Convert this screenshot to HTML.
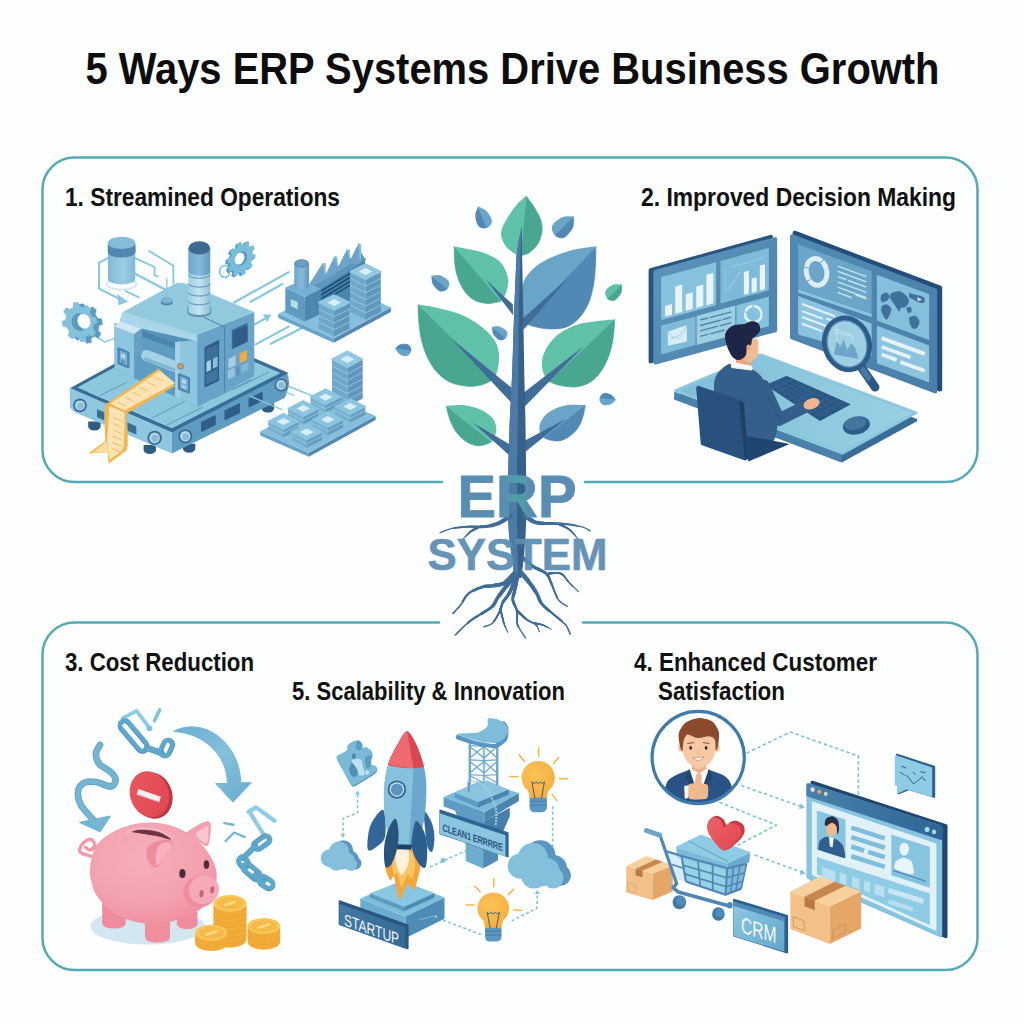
<!DOCTYPE html>
<html>
<head>
<meta charset="utf-8">
<title>5 Ways ERP Systems Drive Business Growth</title>
<style>
html,body{margin:0;padding:0;background:#fdfefe;}
body{width:1024px;height:1024px;overflow:hidden;font-family:"Liberation Sans",sans-serif;}
svg{display:block;}
text{font-family:"Liberation Sans",sans-serif;}
</style>
</head>
<body>
<svg width="1024" height="1024" viewBox="0 0 1024 1024">
<defs>
<clipPath id="trunkclip"><rect x="507.5" y="470" width="19" height="52"/></clipPath>
<linearGradient id="g1tank" x1="0" x2="1" y1="0" y2="0"><stop offset="0" stop-color="#82b9d7"/><stop offset="0.55" stop-color="#9ccde3"/><stop offset="1" stop-color="#82b9d7"/></linearGradient>
<linearGradient id="g1chim" x1="0" x2="1" y1="0" y2="0"><stop offset="0" stop-color="#9fcfe3"/><stop offset="0.5" stop-color="#c4e3ee"/><stop offset="1" stop-color="#8dc0d9"/></linearGradient>
<linearGradient id="g1chim2" x1="0" x2="1" y1="0" y2="0"><stop offset="0" stop-color="#6fa6c9"/><stop offset="0.5" stop-color="#86badb"/><stop offset="1" stop-color="#6499c0"/></linearGradient>
<linearGradient id="g2bezL" x1="0" x2="1" y1="0" y2="1"><stop offset="0" stop-color="#5f95bb"/><stop offset="1" stop-color="#4a80aa"/></linearGradient>
<linearGradient id="g2bezR" x1="0" x2="1" y1="0" y2="1"><stop offset="0" stop-color="#5289b2"/><stop offset="1" stop-color="#4a7fa9"/></linearGradient>
<linearGradient id="g2desk" x1="0" x2="1" y1="0" y2="0"><stop offset="0" stop-color="#7fbdd8"/><stop offset="1" stop-color="#9bd0e4"/></linearGradient>
<radialGradient id="g3pig" cx="0.42" cy="0.35" r="0.75"><stop offset="0" stop-color="#f7aebb"/><stop offset="0.6" stop-color="#f4a1af"/><stop offset="1" stop-color="#ee8c9d"/></radialGradient>
<linearGradient id="g3red" x1="0" x2="1" y1="0" y2="1"><stop offset="0" stop-color="#ea5860"/><stop offset="1" stop-color="#e0464f"/></linearGradient>
<linearGradient id="g3arr" x1="0" x2="1" y1="0" y2="1"><stop offset="0" stop-color="#6aaed0"/><stop offset="0.5" stop-color="#84c1db"/><stop offset="1" stop-color="#67abcd"/></linearGradient>
<radialGradient id="g5bulb" cx="0.4" cy="0.35" r="0.7"><stop offset="0" stop-color="#f9c25a"/><stop offset="1" stop-color="#f5ae3c"/></radialGradient>
<linearGradient id="g4heart" x1="0" x2="1" y1="0" y2="1"><stop offset="0" stop-color="#ee6268"/><stop offset="1" stop-color="#e2454f"/></linearGradient>
<linearGradient id="g4crm" x1="0" x2="1" y1="0" y2="1"><stop offset="0" stop-color="#8cc8e1"/><stop offset="1" stop-color="#64a6cb"/></linearGradient>
<linearGradient id="g4bar" x1="0" x2="1" y1="0" y2="0"><stop offset="0" stop-color="#4a80ab"/><stop offset="1" stop-color="#2f6594"/></linearGradient>
<linearGradient id="g5sign" x1="0" x2="1" y1="0" y2="0"><stop offset="0" stop-color="#437aa3"/><stop offset="1" stop-color="#356a95"/></linearGradient>
</defs>
<rect width="1024" height="1024" fill="#fdfefe"/>

<!-- TITLE -->
<text id="title" x="85.5" y="83.5" font-size="44" font-weight="700" fill="#0d0d0d" textLength="854" lengthAdjust="spacingAndGlyphs">5 Ways ERP Systems Drive Business Growth</text>

<!-- PANELS -->
<g id="panels" fill="none" stroke="#55aab5" stroke-width="2.5" stroke-linecap="round">
  <path d="M442 482 H74.5 A32 32 0 0 1 42.5 450 V189.5 A32 32 0 0 1 74.5 157.5 H945.5 A32 32 0 0 1 977.5 189.5 V450 A32 32 0 0 1 945.5 482 H585"/>
  <path d="M439 622.5 H74.5 A32 32 0 0 0 42.5 654.5 V938 A32 32 0 0 0 74.5 970 H945.5 A32 32 0 0 0 977.5 938 V654.5 A32 32 0 0 0 945.5 622.5 H583"/>
</g>

<!-- LABELS -->
<g id="labels" font-size="25" font-weight="700" fill="#111">
  <text x="65" y="206" textLength="275" lengthAdjust="spacingAndGlyphs">1. Streamined Operations</text>
  <text x="641" y="206" textLength="315" lengthAdjust="spacingAndGlyphs">2. Improved Decision Making</text>
  <text x="65" y="671" textLength="189" lengthAdjust="spacingAndGlyphs">3. Cost Reduction</text>
  <text x="292" y="700" textLength="273" lengthAdjust="spacingAndGlyphs">5. Scalability &amp; Innovation</text>
  <text x="634" y="671" textLength="243" lengthAdjust="spacingAndGlyphs">4. Enhanced Customer</text>
  <text x="658" y="700" textLength="127" lengthAdjust="spacingAndGlyphs">Satisfaction</text>
</g>

<!-- TREE -->
<g id="tree">
<path d="M526.2 195.9 C527.5 197.7 531.6 202.8 534 206.9 C536.5 210.9 539.6 216 540.9 220.3 C542.2 224.6 542.4 228.5 541.9 232.5 C541.3 236.4 539.8 240.6 537.7 244 C535.6 247.3 532 250.8 529.2 252.8 C526.3 254.7 522 255.2 520.6 255.7 Z" fill="#49a791" stroke="#49a791" stroke-width="0.7" stroke-linejoin="round"/><path d="M526.2 195.9 C524.7 197.3 520.2 200.5 517 204.4 C513.7 208.3 509.3 214.4 506.7 219.1 C504.1 223.7 501.4 228.2 501.1 232.5 C500.8 236.8 502.7 241.3 504.7 244.7 C506.8 248.1 510.6 250.9 513.3 252.8 C515.9 254.6 519.4 255.2 520.6 255.7 Z" fill="#60c1a9"/>
<path d="M454.2 246.4 C454.3 249.2 454.1 257.8 454.7 263 C455.3 268.2 456.2 273 457.9 277.7 C459.5 282.3 461.7 287.3 464.5 291.1 C467.2 294.8 470.4 298 474.2 300.1 C478.1 302.2 483.2 303.3 487.7 303.5 C492.1 303.7 498.8 301.7 501.1 301.3 Z" fill="#49a791" stroke="#49a791" stroke-width="0.7" stroke-linejoin="round"/><path d="M454.2 246.4 C456.9 246.9 465 248.2 470.6 249.6 C476.1 250.9 482.6 252.2 487.7 254.5 C492.7 256.7 497.7 259.1 501.1 263 C504.5 266.9 507 273 507.9 277.7 C508.9 282.3 507.8 287.1 506.7 291.1 C505.6 295 502 299.6 501.1 301.3 Z" fill="#60c1a9"/>
<path d="M595.8 246.4 C595.8 249.2 595.9 257 595.6 263 C595.2 269 595 276 593.9 282.5 C592.8 289 591.4 296.2 589 302.1 C586.5 308 583.1 313.7 579.2 317.9 C575.3 322.1 570.9 325.4 565.8 327.2 C560.7 329 554 329 548.7 328.9 C543.4 328.8 538.2 327.5 534 326.5 C529.9 325.5 525.5 323.4 523.8 322.8 Z" fill="#5189b4" stroke="#5189b4" stroke-width="0.7" stroke-linejoin="round"/><path d="M595.8 246.4 C592.8 246.8 584.2 247.5 578 248.8 C571.8 250.2 565 251.9 558.5 254.5 C551.9 257 544.4 260.4 538.9 264.2 C533.4 268.1 528.3 273 525.5 277.7 C522.6 282.3 522.4 287 521.8 292.3 C521.3 297.6 521.8 304.3 522.1 309.4 C522.4 314.5 523.5 320.6 523.8 322.8 Z" fill="#6aa5c8"/>
<path d="M418.1 304.5 C418.2 307.4 418.2 315.5 418.8 321.6 C419.4 327.7 420.2 335 421.7 341.1 C423.2 347.2 425.2 352.9 427.8 358.2 C430.5 363.5 433.7 368.8 437.6 372.9 C441.5 376.9 445.9 380.4 451 382.6 C456.1 384.9 462.8 386 468.1 386.3 C473.4 386.6 478.5 385.8 482.8 384.6 C487 383.4 491.9 379.9 493.8 379 Z" fill="#49a791" stroke="#49a791" stroke-width="0.7" stroke-linejoin="round"/><path d="M418.1 304.5 C421.5 305.1 431.3 306.3 438.8 308.2 C446.4 310 455.9 312.2 463.2 315.5 C470.6 318.8 477.5 323.4 482.8 327.7 C488.1 332 492.3 336.5 495 341.1 C497.7 345.8 498.7 350.9 499.1 355.8 C499.5 360.7 498.3 366.6 497.4 370.4 C496.5 374.3 494.4 377.6 493.8 379 Z" fill="#60c1a9"/>
<path d="M614.6 319.6 C614.4 322.4 614.2 330.6 613.4 336.2 C612.6 341.9 611.6 347.8 609.7 353.3 C607.9 358.8 605.5 364.5 602.4 369.2 C599.4 373.9 595.7 378.5 591.4 381.4 C587.1 384.3 581.9 386.1 576.8 386.8 C571.7 387.5 565.6 386.5 560.9 385.6 C556.2 384.7 550.7 382.1 548.7 381.4 Z" fill="#49a791" stroke="#49a791" stroke-width="0.7" stroke-linejoin="round"/><path d="M614.6 319.6 C611.8 319.9 604 320.2 597.5 321.1 C591 322 582.5 322.7 575.5 325.3 C568.6 327.8 561.1 332 556 336.2 C550.9 340.5 547.4 346.4 545 350.9 C542.7 355.4 542.1 359.2 541.9 363.1 C541.7 367 542.7 371 543.8 374.1 C544.9 377.1 547.9 380.2 548.7 381.4 Z" fill="#60c1a9"/>
<path d="M446.2 405.9 C446.8 408.1 448.2 415 449.8 419.3 C451.4 423.6 453.3 427.8 455.9 431.5 C458.6 435.2 462.2 438.9 465.7 441.3 C469.1 443.6 473.2 445.2 476.7 445.7 C480.1 446.2 484 444.9 486.4 444.2 C488.9 443.5 490.5 442.2 491.3 441.8 Z" fill="#49a791" stroke="#49a791" stroke-width="0.7" stroke-linejoin="round"/><path d="M446.2 405.9 C449 405.7 457.5 404.5 463.2 405.1 C468.9 405.7 475.4 407.4 480.3 409.5 C485.2 411.7 489.9 414.8 492.5 418.1 C495.2 421.3 496.2 425.6 496.4 429.1 C496.6 432.5 494.6 436.7 493.8 438.8 C492.9 440.9 491.7 441.3 491.3 441.8 Z" fill="#60c1a9"/>
<path d="M585.3 405.1 C584.9 407.1 584.1 413.1 582.9 416.9 C581.7 420.6 580.2 424.6 578 427.8 C575.8 431.1 572.5 434.2 569.4 436.4 C566.4 438.5 562.9 440.2 559.7 440.8 C556.4 441.4 552.6 440.6 549.9 440 C547.3 439.5 544.8 438 543.8 437.6 Z" fill="#5189b4" stroke="#5189b4" stroke-width="0.7" stroke-linejoin="round"/><path d="M585.3 405.1 C582.5 405.1 573.5 404.4 568.2 405.1 C562.9 405.9 557.6 407.6 553.6 409.5 C549.5 411.5 546.2 414 543.8 416.9 C541.4 419.7 539.9 423.6 539.4 426.6 C538.9 429.7 540.1 433.3 540.9 435.2 C541.6 437 543.3 437.2 543.8 437.6 Z" fill="#6aa5c8"/>
<path d="M477.9 206.9 C479.2 207.5 483.8 208.8 486 210.9 C488.3 213.1 490.8 217.4 491.4 219.8 C492.1 222.2 490.9 223.8 490.2 225.1 C489.4 226.5 487.4 227.3 486.9 227.7 Z" fill="#6aa5c8" stroke="#6aa5c8" stroke-width="0.7" stroke-linejoin="round"/><path d="M477.9 206.9 C477.5 208.3 475.2 212.4 475.3 215.5 C475.3 218.7 476.7 223.5 478 225.6 C479.2 227.7 481.3 228 482.8 228.3 C484.2 228.7 486.2 227.8 486.9 227.7 Z" fill="#5189b4"/>
<path d="M573.6 216.6 C573.5 218.4 574.1 223.8 572.8 227.2 C571.4 230.5 567.7 235 565.4 236.7 C563.1 238.4 560.7 237.8 558.9 237.5 C557.1 237.2 555.3 235.3 554.6 234.9 Z" fill="#5189b4" stroke="#5189b4" stroke-width="0.7" stroke-linejoin="round"/><path d="M573.6 216.6 C571.8 216.7 566.4 215.8 563 217 C559.6 218.3 555 221.8 553.2 224 C551.4 226.3 551.9 228.7 552.2 230.5 C552.4 232.3 554.2 234.2 554.6 234.9 Z" fill="#6aa5c8"/>
<path d="M431.5 276.2 C432.9 276.1 436.9 275 439.6 275.6 C442.3 276.3 446 278.6 447.6 280.2 C449.1 281.8 448.9 283.7 448.9 285.1 C448.9 286.6 447.6 288.1 447.4 288.7 Z" fill="#6aa5c8" stroke="#6aa5c8" stroke-width="0.7" stroke-linejoin="round"/><path d="M431.5 276.2 C431.7 277.5 431.6 281.8 432.8 284.2 C434.1 286.7 437.2 289.8 439.1 290.9 C441 292.1 442.9 291.4 444.2 291 C445.6 290.7 446.8 289.1 447.4 288.7 Z" fill="#5189b4"/>
<path d="M621.4 284.5 C621.4 285.8 622 290 621.1 292.5 C620.1 295 617.5 298.3 615.7 299.6 C614 300.9 612 300.5 610.6 300.3 C609.2 300.1 607.8 298.6 607.3 298.3 Z" fill="#49a791" stroke="#49a791" stroke-width="0.7" stroke-linejoin="round"/><path d="M621.4 284.5 C620.1 284.5 616 283.8 613.5 284.6 C610.9 285.5 607.5 288.1 606.2 289.8 C604.8 291.5 605.2 293.5 605.4 294.9 C605.6 296.3 607 297.7 607.3 298.3 Z" fill="#60c1a9"/>
<path d="M492.1 327.2 C493.2 327.1 496.7 326.2 499 326.7 C501.3 327.3 504.5 329.2 505.9 330.6 C507.2 331.9 507 333.6 507 334.8 C507 336.1 505.9 337.4 505.7 337.9 Z" fill="#6aa5c8" stroke="#6aa5c8" stroke-width="0.7" stroke-linejoin="round"/><path d="M492.1 327.2 C492.2 328.4 492.1 332 493.2 334.1 C494.3 336.2 497 338.8 498.6 339.8 C500.3 340.8 501.8 340.2 503 339.9 C504.2 339.6 505.2 338.2 505.7 337.9 Z" fill="#5189b4"/>
<path d="M395.4 348.5 C396.2 347.8 398.5 345.2 400.6 344.6 C402.6 344 405.9 344.1 407.6 344.6 C409.3 345.2 410 346.8 410.6 347.9 C411.2 348.9 410.9 350.6 410.9 351.2 Z" fill="#5189b4" stroke="#5189b4" stroke-width="0.7" stroke-linejoin="round"/><path d="M395.4 348.5 C396 349.4 397.3 352.6 399 353.8 C400.7 355.1 403.8 356.1 405.6 356.2 C407.3 356.2 408.6 355 409.5 354.2 C410.4 353.4 410.7 351.7 410.9 351.2 Z" fill="#6aa5c8"/>
<path d="M615.6 399.7 C614.8 400.5 612.7 403.2 610.7 404.1 C608.8 404.9 605.4 405.1 603.7 404.7 C602 404.4 601 402.9 600.4 401.8 C599.7 400.8 599.8 399.1 599.7 398.6 Z" fill="#6aa5c8" stroke="#6aa5c8" stroke-width="0.7" stroke-linejoin="round"/><path d="M615.6 399.7 C614.9 398.9 613.3 395.8 611.4 394.7 C609.6 393.6 606.3 392.9 604.5 393 C602.8 393.2 601.6 394.5 600.8 395.4 C600 396.3 599.9 398 599.7 398.6 Z" fill="#5189b4"/>
<path d="M512.8 304.5 L485.7 279.6 L513.3 315.5 Z" fill="#3f6d97"/>
<path d="M521.8 319.6 L569.4 276.4 L523.8 329.4 Z" fill="#3f6d97"/>
<path d="M511.3 387.5 L451 338.2 L512.1 403.4 Z" fill="#3f6d97"/>
<path d="M523.3 392.9 L584.1 346 L524.8 406.6 Z" fill="#3f6d97"/>
<path d="M509.6 444.2 L472.5 422.5 L509.6 455.4 Z" fill="#3f6d97"/>
<path d="M524.5 440.8 L566.3 418.8 L525.7 451.5 Z" fill="#3f6d97"/>
<path d="M521.8 226.4 L518.7 241 L516.5 255.7 L514.5 302.1 L512.1 375.3 L509.6 424.1 L508.4 463.2 L507.7 512.1 L509.1 536.5 L512.3 560.9 L514.5 578 L521.3 578 L523.5 560.9 L525.5 536.5 L526.5 512.1 L526 463.2 L525.5 424.1 L524.3 375.3 L523.1 302.1 L522.1 255.7 L521.8 226.4 Z" fill="#35618a"/>
<path d="M521.8 226.4 L518.7 241 L516.5 255.7 L514.5 302.1 L512.1 375.3 L509.6 424.1 L508.4 463.2 L507.7 512.1 L509.1 536.5 L512.3 560.9 L514.5 578 L517.9 578 L517.7 560.9 L517.2 536.5 L517 512.1 L517 463.2 L517.7 424.1 L518.2 375.3 L518.9 302.1 L520.6 255.7 L521.8 226.4 Z" fill="#4b7ba6"/>
<g fill="none" stroke="#3f6d97" stroke-linecap="round" stroke-linejoin="round">
<path d="M510.8 515.7 C508.6 517.1 502.1 522 497.4 523.8 C492.7 525.6 487.7 526.2 482.8 526.7 C477.9 527.2 473.4 526.4 468.1 526.7 C462.8 527 455.7 527.7 451 528.7 C446.4 529.7 441.9 532.1 440 532.8" stroke-width="1.3"/><path d="M510.8 515.7 C508.6 517.1 502.1 522 497.4 523.8 C492.7 525.6 487.7 526.2 482.8 526.7 C477.9 527.2 473.4 526.4 468.1 526.7 C462.8 527 455.7 527.7 451 528.7 C446.4 529.7 441.9 532.1 440 532.8" pathLength="1" stroke-dasharray="0.8 2" stroke-width="1.9"/><path d="M510.8 515.7 C508.6 517.1 502.1 522 497.4 523.8 C492.7 525.6 487.7 526.2 482.8 526.7 C477.9 527.2 473.4 526.4 468.1 526.7 C462.8 527 455.7 527.7 451 528.7 C446.4 529.7 441.9 532.1 440 532.8" pathLength="1" stroke-dasharray="0.6 2" stroke-width="2.4"/><path d="M510.8 515.7 C508.6 517.1 502.1 522 497.4 523.8 C492.7 525.6 487.7 526.2 482.8 526.7 C477.9 527.2 473.4 526.4 468.1 526.7 C462.8 527 455.7 527.7 451 528.7 C446.4 529.7 441.9 532.1 440 532.8" pathLength="1" stroke-dasharray="0.45 2" stroke-width="3"/><path d="M510.8 515.7 C508.6 517.1 502.1 522 497.4 523.8 C492.7 525.6 487.7 526.2 482.8 526.7 C477.9 527.2 473.4 526.4 468.1 526.7 C462.8 527 455.7 527.7 451 528.7 C446.4 529.7 441.9 532.1 440 532.8" pathLength="1" stroke-dasharray="0.3 2" stroke-width="3.7"/><path d="M510.8 515.7 C508.6 517.1 502.1 522 497.4 523.8 C492.7 525.6 487.7 526.2 482.8 526.7 C477.9 527.2 473.4 526.4 468.1 526.7 C462.8 527 455.7 527.7 451 528.7 C446.4 529.7 441.9 532.1 440 532.8" pathLength="1" stroke-dasharray="0.15 2" stroke-width="4.2"/>
<path d="M479.1 527 C477.7 527.7 473.1 529.7 470.6 531.6 C468 533.5 464.9 537.3 463.7 538.4" stroke-width="1.2"/><path d="M479.1 527 C477.7 527.7 473.1 529.7 470.6 531.6 C468 533.5 464.9 537.3 463.7 538.4" pathLength="1" stroke-dasharray="0.8 2" stroke-width="1.5"/><path d="M479.1 527 C477.7 527.7 473.1 529.7 470.6 531.6 C468 533.5 464.9 537.3 463.7 538.4" pathLength="1" stroke-dasharray="0.6 2" stroke-width="1.8"/><path d="M479.1 527 C477.7 527.7 473.1 529.7 470.6 531.6 C468 533.5 464.9 537.3 463.7 538.4" pathLength="1" stroke-dasharray="0.45 2" stroke-width="1.9"/><path d="M479.1 527 C477.7 527.7 473.1 529.7 470.6 531.6 C468 533.5 464.9 537.3 463.7 538.4" pathLength="1" stroke-dasharray="0.3 2" stroke-width="1.9"/><path d="M479.1 527 C477.7 527.7 473.1 529.7 470.6 531.6 C468 533.5 464.9 537.3 463.7 538.4" pathLength="1" stroke-dasharray="0.15 2" stroke-width="2"/>
<path d="M524.3 515.7 C526.3 516.9 531.6 521.3 536.5 522.6 C541.4 523.9 548.3 523.3 553.6 523.5 C558.9 523.8 563.3 523.7 568.2 524.3 C573.1 524.9 579.2 526.1 582.9 527.2 C586.5 528.3 589 530.3 590.2 530.9" stroke-width="1.3"/><path d="M524.3 515.7 C526.3 516.9 531.6 521.3 536.5 522.6 C541.4 523.9 548.3 523.3 553.6 523.5 C558.9 523.8 563.3 523.7 568.2 524.3 C573.1 524.9 579.2 526.1 582.9 527.2 C586.5 528.3 589 530.3 590.2 530.9" pathLength="1" stroke-dasharray="0.8 2" stroke-width="1.9"/><path d="M524.3 515.7 C526.3 516.9 531.6 521.3 536.5 522.6 C541.4 523.9 548.3 523.3 553.6 523.5 C558.9 523.8 563.3 523.7 568.2 524.3 C573.1 524.9 579.2 526.1 582.9 527.2 C586.5 528.3 589 530.3 590.2 530.9" pathLength="1" stroke-dasharray="0.6 2" stroke-width="2.4"/><path d="M524.3 515.7 C526.3 516.9 531.6 521.3 536.5 522.6 C541.4 523.9 548.3 523.3 553.6 523.5 C558.9 523.8 563.3 523.7 568.2 524.3 C573.1 524.9 579.2 526.1 582.9 527.2 C586.5 528.3 589 530.3 590.2 530.9" pathLength="1" stroke-dasharray="0.45 2" stroke-width="3"/><path d="M524.3 515.7 C526.3 516.9 531.6 521.3 536.5 522.6 C541.4 523.9 548.3 523.3 553.6 523.5 C558.9 523.8 563.3 523.7 568.2 524.3 C573.1 524.9 579.2 526.1 582.9 527.2 C586.5 528.3 589 530.3 590.2 530.9" pathLength="1" stroke-dasharray="0.3 2" stroke-width="3.7"/><path d="M524.3 515.7 C526.3 516.9 531.6 521.3 536.5 522.6 C541.4 523.9 548.3 523.3 553.6 523.5 C558.9 523.8 563.3 523.7 568.2 524.3 C573.1 524.9 579.2 526.1 582.9 527.2 C586.5 528.3 589 530.3 590.2 530.9" pathLength="1" stroke-dasharray="0.15 2" stroke-width="4.2"/>
<path d="M558.5 523.8 C560.3 524.8 566.2 527.1 569.4 529.6 C572.7 532.2 576.6 537.4 578 538.9" stroke-width="1.2"/><path d="M558.5 523.8 C560.3 524.8 566.2 527.1 569.4 529.6 C572.7 532.2 576.6 537.4 578 538.9" pathLength="1" stroke-dasharray="0.8 2" stroke-width="1.5"/><path d="M558.5 523.8 C560.3 524.8 566.2 527.1 569.4 529.6 C572.7 532.2 576.6 537.4 578 538.9" pathLength="1" stroke-dasharray="0.6 2" stroke-width="1.8"/><path d="M558.5 523.8 C560.3 524.8 566.2 527.1 569.4 529.6 C572.7 532.2 576.6 537.4 578 538.9" pathLength="1" stroke-dasharray="0.45 2" stroke-width="1.9"/><path d="M558.5 523.8 C560.3 524.8 566.2 527.1 569.4 529.6 C572.7 532.2 576.6 537.4 578 538.9" pathLength="1" stroke-dasharray="0.3 2" stroke-width="1.9"/><path d="M558.5 523.8 C560.3 524.8 566.2 527.1 569.4 529.6 C572.7 532.2 576.6 537.4 578 538.9" pathLength="1" stroke-dasharray="0.15 2" stroke-width="2"/>
<path d="M523.8 558.5 C525.3 559.8 529.1 563.7 532.8 566.3 C536.6 568.8 543.1 570.6 546.2 573.6 C549.4 576.6 549.6 579.7 551.6 584.1 C553.7 588.5 555.9 596.3 558.5 600 C561.1 603.7 565.8 605.3 567.2 606.3" stroke-width="1.4"/><path d="M523.8 558.5 C525.3 559.8 529.1 563.7 532.8 566.3 C536.6 568.8 543.1 570.6 546.2 573.6 C549.4 576.6 549.6 579.7 551.6 584.1 C553.7 588.5 555.9 596.3 558.5 600 C561.1 603.7 565.8 605.3 567.2 606.3" pathLength="1" stroke-dasharray="0.8 2" stroke-width="1.9"/><path d="M523.8 558.5 C525.3 559.8 529.1 563.7 532.8 566.3 C536.6 568.8 543.1 570.6 546.2 573.6 C549.4 576.6 549.6 579.7 551.6 584.1 C553.7 588.5 555.9 596.3 558.5 600 C561.1 603.7 565.8 605.3 567.2 606.3" pathLength="1" stroke-dasharray="0.6 2" stroke-width="2.4"/><path d="M523.8 558.5 C525.3 559.8 529.1 563.7 532.8 566.3 C536.6 568.8 543.1 570.6 546.2 573.6 C549.4 576.6 549.6 579.7 551.6 584.1 C553.7 588.5 555.9 596.3 558.5 600 C561.1 603.7 565.8 605.3 567.2 606.3" pathLength="1" stroke-dasharray="0.45 2" stroke-width="2.8"/><path d="M523.8 558.5 C525.3 559.8 529.1 563.7 532.8 566.3 C536.6 568.8 543.1 570.6 546.2 573.6 C549.4 576.6 549.6 579.7 551.6 584.1 C553.7 588.5 555.9 596.3 558.5 600 C561.1 603.7 565.8 605.3 567.2 606.3" pathLength="1" stroke-dasharray="0.3 2" stroke-width="3.2"/><path d="M523.8 558.5 C525.3 559.8 529.1 563.7 532.8 566.3 C536.6 568.8 543.1 570.6 546.2 573.6 C549.4 576.6 549.6 579.7 551.6 584.1 C553.7 588.5 555.9 596.3 558.5 600 C561.1 603.7 565.8 605.3 567.2 606.3" pathLength="1" stroke-dasharray="0.15 2" stroke-width="3.6"/>
<path d="M548.2 573.6 C550.3 573.6 557.4 572 560.9 573.6 C564.4 575.1 566.5 579.9 569.4 582.9 C572.4 585.9 577 590.2 578.5 591.7" stroke-width="1.2"/><path d="M548.2 573.6 C550.3 573.6 557.4 572 560.9 573.6 C564.4 575.1 566.5 579.9 569.4 582.9 C572.4 585.9 577 590.2 578.5 591.7" pathLength="1" stroke-dasharray="0.8 2" stroke-width="1.4"/><path d="M548.2 573.6 C550.3 573.6 557.4 572 560.9 573.6 C564.4 575.1 566.5 579.9 569.4 582.9 C572.4 585.9 577 590.2 578.5 591.7" pathLength="1" stroke-dasharray="0.6 2" stroke-width="1.6"/><path d="M548.2 573.6 C550.3 573.6 557.4 572 560.9 573.6 C564.4 575.1 566.5 579.9 569.4 582.9 C572.4 585.9 577 590.2 578.5 591.7" pathLength="1" stroke-dasharray="0.45 2" stroke-width="1.7"/><path d="M548.2 573.6 C550.3 573.6 557.4 572 560.9 573.6 C564.4 575.1 566.5 579.9 569.4 582.9 C572.4 585.9 577 590.2 578.5 591.7" pathLength="1" stroke-dasharray="0.3 2" stroke-width="1.9"/><path d="M548.2 573.6 C550.3 573.6 557.4 572 560.9 573.6 C564.4 575.1 566.5 579.9 569.4 582.9 C572.4 585.9 577 590.2 578.5 591.7" pathLength="1" stroke-dasharray="0.15 2" stroke-width="2"/>
<path d="M520.6 571.9 C522.1 573.7 526.9 579.2 529.6 582.9 C532.4 586.5 534.8 590.2 537 593.9 C539.1 597.5 539 600.8 542.6 604.8 C546.2 608.9 554.5 614.8 558.5 618.3 C562.4 621.7 564.3 623 566.3 625.6 C568.2 628.2 569.5 632.7 570.2 634.1" stroke-width="1.6"/><path d="M520.6 571.9 C522.1 573.7 526.9 579.2 529.6 582.9 C532.4 586.5 534.8 590.2 537 593.9 C539.1 597.5 539 600.8 542.6 604.8 C546.2 608.9 554.5 614.8 558.5 618.3 C562.4 621.7 564.3 623 566.3 625.6 C568.2 628.2 569.5 632.7 570.2 634.1" pathLength="1" stroke-dasharray="0.8 2" stroke-width="2.2"/><path d="M520.6 571.9 C522.1 573.7 526.9 579.2 529.6 582.9 C532.4 586.5 534.8 590.2 537 593.9 C539.1 597.5 539 600.8 542.6 604.8 C546.2 608.9 554.5 614.8 558.5 618.3 C562.4 621.7 564.3 623 566.3 625.6 C568.2 628.2 569.5 632.7 570.2 634.1" pathLength="1" stroke-dasharray="0.6 2" stroke-width="2.8"/><path d="M520.6 571.9 C522.1 573.7 526.9 579.2 529.6 582.9 C532.4 586.5 534.8 590.2 537 593.9 C539.1 597.5 539 600.8 542.6 604.8 C546.2 608.9 554.5 614.8 558.5 618.3 C562.4 621.7 564.3 623 566.3 625.6 C568.2 628.2 569.5 632.7 570.2 634.1" pathLength="1" stroke-dasharray="0.45 2" stroke-width="3.4"/><path d="M520.6 571.9 C522.1 573.7 526.9 579.2 529.6 582.9 C532.4 586.5 534.8 590.2 537 593.9 C539.1 597.5 539 600.8 542.6 604.8 C546.2 608.9 554.5 614.8 558.5 618.3 C562.4 621.7 564.3 623 566.3 625.6 C568.2 628.2 569.5 632.7 570.2 634.1" pathLength="1" stroke-dasharray="0.3 2" stroke-width="3.9"/><path d="M520.6 571.9 C522.1 573.7 526.9 579.2 529.6 582.9 C532.4 586.5 534.8 590.2 537 593.9 C539.1 597.5 539 600.8 542.6 604.8 C546.2 608.9 554.5 614.8 558.5 618.3 C562.4 621.7 564.3 623 566.3 625.6 C568.2 628.2 569.5 632.7 570.2 634.1" pathLength="1" stroke-dasharray="0.15 2" stroke-width="4.4"/>
<path d="M517.4 576.8 C517 579.2 515.3 587.6 514.5 591.4 C513.7 595.3 512.4 596.7 512.8 600 C513.2 603.2 516.2 606.9 517 610.9 C517.7 615 516 619.9 517.4 624.4 C518.9 628.9 524.2 635.6 525.5 637.8" stroke-width="1.5"/><path d="M517.4 576.8 C517 579.2 515.3 587.6 514.5 591.4 C513.7 595.3 512.4 596.7 512.8 600 C513.2 603.2 516.2 606.9 517 610.9 C517.7 615 516 619.9 517.4 624.4 C518.9 628.9 524.2 635.6 525.5 637.8" pathLength="1" stroke-dasharray="0.8 2" stroke-width="1.9"/><path d="M517.4 576.8 C517 579.2 515.3 587.6 514.5 591.4 C513.7 595.3 512.4 596.7 512.8 600 C513.2 603.2 516.2 606.9 517 610.9 C517.7 615 516 619.9 517.4 624.4 C518.9 628.9 524.2 635.6 525.5 637.8" pathLength="1" stroke-dasharray="0.6 2" stroke-width="2.4"/><path d="M517.4 576.8 C517 579.2 515.3 587.6 514.5 591.4 C513.7 595.3 512.4 596.7 512.8 600 C513.2 603.2 516.2 606.9 517 610.9 C517.7 615 516 619.9 517.4 624.4 C518.9 628.9 524.2 635.6 525.5 637.8" pathLength="1" stroke-dasharray="0.45 2" stroke-width="2.8"/><path d="M517.4 576.8 C517 579.2 515.3 587.6 514.5 591.4 C513.7 595.3 512.4 596.7 512.8 600 C513.2 603.2 516.2 606.9 517 610.9 C517.7 615 516 619.9 517.4 624.4 C518.9 628.9 524.2 635.6 525.5 637.8" pathLength="1" stroke-dasharray="0.3 2" stroke-width="3.2"/><path d="M517.4 576.8 C517 579.2 515.3 587.6 514.5 591.4 C513.7 595.3 512.4 596.7 512.8 600 C513.2 603.2 516.2 606.9 517 610.9 C517.7 615 516 619.9 517.4 624.4 C518.9 628.9 524.2 635.6 525.5 637.8" pathLength="1" stroke-dasharray="0.15 2" stroke-width="3.6"/>
<path d="M517.4 610.9 C519 612.4 523.6 617.2 526.7 619.5 C529.8 621.8 533.9 622.8 536 624.9 C538.1 626.9 538.8 630.6 539.4 631.7" stroke-width="1.2"/><path d="M517.4 610.9 C519 612.4 523.6 617.2 526.7 619.5 C529.8 621.8 533.9 622.8 536 624.9 C538.1 626.9 538.8 630.6 539.4 631.7" pathLength="1" stroke-dasharray="0.8 2" stroke-width="1.5"/><path d="M517.4 610.9 C519 612.4 523.6 617.2 526.7 619.5 C529.8 621.8 533.9 622.8 536 624.9 C538.1 626.9 538.8 630.6 539.4 631.7" pathLength="1" stroke-dasharray="0.6 2" stroke-width="1.8"/><path d="M517.4 610.9 C519 612.4 523.6 617.2 526.7 619.5 C529.8 621.8 533.9 622.8 536 624.9 C538.1 626.9 538.8 630.6 539.4 631.7" pathLength="1" stroke-dasharray="0.45 2" stroke-width="1.9"/><path d="M517.4 610.9 C519 612.4 523.6 617.2 526.7 619.5 C529.8 621.8 533.9 622.8 536 624.9 C538.1 626.9 538.8 630.6 539.4 631.7" pathLength="1" stroke-dasharray="0.3 2" stroke-width="2.1"/><path d="M517.4 610.9 C519 612.4 523.6 617.2 526.7 619.5 C529.8 621.8 533.9 622.8 536 624.9 C538.1 626.9 538.8 630.6 539.4 631.7" pathLength="1" stroke-dasharray="0.15 2" stroke-width="2.2"/>
<path d="M534 623.2 C535.5 623.4 539.7 623.8 542.6 624.9 C545.4 625.9 549.7 628.5 551.1 629.3" stroke-width="1.1"/><path d="M534 623.2 C535.5 623.4 539.7 623.8 542.6 624.9 C545.4 625.9 549.7 628.5 551.1 629.3" pathLength="1" stroke-dasharray="0.8 2" stroke-width="1.2"/><path d="M534 623.2 C535.5 623.4 539.7 623.8 542.6 624.9 C545.4 625.9 549.7 628.5 551.1 629.3" pathLength="1" stroke-dasharray="0.6 2" stroke-width="1.4"/><path d="M534 623.2 C535.5 623.4 539.7 623.8 542.6 624.9 C545.4 625.9 549.7 628.5 551.1 629.3" pathLength="1" stroke-dasharray="0.45 2" stroke-width="1.5"/><path d="M534 623.2 C535.5 623.4 539.7 623.8 542.6 624.9 C545.4 625.9 549.7 628.5 551.1 629.3" pathLength="1" stroke-dasharray="0.3 2" stroke-width="1.5"/><path d="M534 623.2 C535.5 623.4 539.7 623.8 542.6 624.9 C545.4 625.9 549.7 628.5 551.1 629.3" pathLength="1" stroke-dasharray="0.15 2" stroke-width="1.6"/>
<path d="M516.2 576.8 C515.1 579.4 511.9 588.4 509.6 592.6 C507.4 596.9 504.4 599.4 502.8 602.4 C501.2 605.5 501.6 607.5 499.9 610.9 C498.2 614.4 495.2 620.5 492.5 623.2 C489.9 625.8 485.4 626.2 484 626.8" stroke-width="1.5"/><path d="M516.2 576.8 C515.1 579.4 511.9 588.4 509.6 592.6 C507.4 596.9 504.4 599.4 502.8 602.4 C501.2 605.5 501.6 607.5 499.9 610.9 C498.2 614.4 495.2 620.5 492.5 623.2 C489.9 625.8 485.4 626.2 484 626.8" pathLength="1" stroke-dasharray="0.8 2" stroke-width="2"/><path d="M516.2 576.8 C515.1 579.4 511.9 588.4 509.6 592.6 C507.4 596.9 504.4 599.4 502.8 602.4 C501.2 605.5 501.6 607.5 499.9 610.9 C498.2 614.4 495.2 620.5 492.5 623.2 C489.9 625.8 485.4 626.2 484 626.8" pathLength="1" stroke-dasharray="0.6 2" stroke-width="2.6"/><path d="M516.2 576.8 C515.1 579.4 511.9 588.4 509.6 592.6 C507.4 596.9 504.4 599.4 502.8 602.4 C501.2 605.5 501.6 607.5 499.9 610.9 C498.2 614.4 495.2 620.5 492.5 623.2 C489.9 625.8 485.4 626.2 484 626.8" pathLength="1" stroke-dasharray="0.45 2" stroke-width="3.1"/><path d="M516.2 576.8 C515.1 579.4 511.9 588.4 509.6 592.6 C507.4 596.9 504.4 599.4 502.8 602.4 C501.2 605.5 501.6 607.5 499.9 610.9 C498.2 614.4 495.2 620.5 492.5 623.2 C489.9 625.8 485.4 626.2 484 626.8" pathLength="1" stroke-dasharray="0.3 2" stroke-width="3.6"/><path d="M516.2 576.8 C515.1 579.4 511.9 588.4 509.6 592.6 C507.4 596.9 504.4 599.4 502.8 602.4 C501.2 605.5 501.6 607.5 499.9 610.9 C498.2 614.4 495.2 620.5 492.5 623.2 C489.9 625.8 485.4 626.2 484 626.8" pathLength="1" stroke-dasharray="0.15 2" stroke-width="4"/>
<path d="M500.4 609.2 C500.7 610.5 501.7 614.5 502.3 617.1 C503 619.6 503.4 621.9 504.3 624.4 C505.2 626.9 507.1 630.9 507.7 632.2" stroke-width="1.2"/><path d="M500.4 609.2 C500.7 610.5 501.7 614.5 502.3 617.1 C503 619.6 503.4 621.9 504.3 624.4 C505.2 626.9 507.1 630.9 507.7 632.2" pathLength="1" stroke-dasharray="0.8 2" stroke-width="1.4"/><path d="M500.4 609.2 C500.7 610.5 501.7 614.5 502.3 617.1 C503 619.6 503.4 621.9 504.3 624.4 C505.2 626.9 507.1 630.9 507.7 632.2" pathLength="1" stroke-dasharray="0.6 2" stroke-width="1.6"/><path d="M500.4 609.2 C500.7 610.5 501.7 614.5 502.3 617.1 C503 619.6 503.4 621.9 504.3 624.4 C505.2 626.9 507.1 630.9 507.7 632.2" pathLength="1" stroke-dasharray="0.45 2" stroke-width="1.7"/><path d="M500.4 609.2 C500.7 610.5 501.7 614.5 502.3 617.1 C503 619.6 503.4 621.9 504.3 624.4 C505.2 626.9 507.1 630.9 507.7 632.2" pathLength="1" stroke-dasharray="0.3 2" stroke-width="1.9"/><path d="M500.4 609.2 C500.7 610.5 501.7 614.5 502.3 617.1 C503 619.6 503.4 621.9 504.3 624.4 C505.2 626.9 507.1 630.9 507.7 632.2" pathLength="1" stroke-dasharray="0.15 2" stroke-width="2"/>
<path d="M515 575.5 C513.3 577.7 507.7 584.5 504.7 588.2 C501.8 592 499.7 594.8 497.4 598 C495.2 601.2 495.8 603.5 491.3 607.3 C486.8 611.1 476.5 616.1 470.6 620.7 C464.6 625.3 458 632.5 455.4 634.9" stroke-width="1.6"/><path d="M515 575.5 C513.3 577.7 507.7 584.5 504.7 588.2 C501.8 592 499.7 594.8 497.4 598 C495.2 601.2 495.8 603.5 491.3 607.3 C486.8 611.1 476.5 616.1 470.6 620.7 C464.6 625.3 458 632.5 455.4 634.9" pathLength="1" stroke-dasharray="0.8 2" stroke-width="2.2"/><path d="M515 575.5 C513.3 577.7 507.7 584.5 504.7 588.2 C501.8 592 499.7 594.8 497.4 598 C495.2 601.2 495.8 603.5 491.3 607.3 C486.8 611.1 476.5 616.1 470.6 620.7 C464.6 625.3 458 632.5 455.4 634.9" pathLength="1" stroke-dasharray="0.6 2" stroke-width="2.8"/><path d="M515 575.5 C513.3 577.7 507.7 584.5 504.7 588.2 C501.8 592 499.7 594.8 497.4 598 C495.2 601.2 495.8 603.5 491.3 607.3 C486.8 611.1 476.5 616.1 470.6 620.7 C464.6 625.3 458 632.5 455.4 634.9" pathLength="1" stroke-dasharray="0.45 2" stroke-width="3.4"/><path d="M515 575.5 C513.3 577.7 507.7 584.5 504.7 588.2 C501.8 592 499.7 594.8 497.4 598 C495.2 601.2 495.8 603.5 491.3 607.3 C486.8 611.1 476.5 616.1 470.6 620.7 C464.6 625.3 458 632.5 455.4 634.9" pathLength="1" stroke-dasharray="0.3 2" stroke-width="3.9"/><path d="M515 575.5 C513.3 577.7 507.7 584.5 504.7 588.2 C501.8 592 499.7 594.8 497.4 598 C495.2 601.2 495.8 603.5 491.3 607.3 C486.8 611.1 476.5 616.1 470.6 620.7 C464.6 625.3 458 632.5 455.4 634.9" pathLength="1" stroke-dasharray="0.15 2" stroke-width="4.4"/>
<path d="M514 573.6 C512.5 575.1 508.3 580.8 504.7 582.9 C501.2 584.9 496.2 585.1 492.5 585.8 C488.9 586.5 486.8 585.4 482.8 586.8 C478.7 588.1 471.8 590.8 468.1 593.9 C464.5 596.9 463.3 601.6 460.8 604.8 C458.3 608.1 454.3 612 453 613.4" stroke-width="1.6"/><path d="M514 573.6 C512.5 575.1 508.3 580.8 504.7 582.9 C501.2 584.9 496.2 585.1 492.5 585.8 C488.9 586.5 486.8 585.4 482.8 586.8 C478.7 588.1 471.8 590.8 468.1 593.9 C464.5 596.9 463.3 601.6 460.8 604.8 C458.3 608.1 454.3 612 453 613.4" pathLength="1" stroke-dasharray="0.8 2" stroke-width="2.2"/><path d="M514 573.6 C512.5 575.1 508.3 580.8 504.7 582.9 C501.2 584.9 496.2 585.1 492.5 585.8 C488.9 586.5 486.8 585.4 482.8 586.8 C478.7 588.1 471.8 590.8 468.1 593.9 C464.5 596.9 463.3 601.6 460.8 604.8 C458.3 608.1 454.3 612 453 613.4" pathLength="1" stroke-dasharray="0.6 2" stroke-width="2.8"/><path d="M514 573.6 C512.5 575.1 508.3 580.8 504.7 582.9 C501.2 584.9 496.2 585.1 492.5 585.8 C488.9 586.5 486.8 585.4 482.8 586.8 C478.7 588.1 471.8 590.8 468.1 593.9 C464.5 596.9 463.3 601.6 460.8 604.8 C458.3 608.1 454.3 612 453 613.4" pathLength="1" stroke-dasharray="0.45 2" stroke-width="3.4"/><path d="M514 573.6 C512.5 575.1 508.3 580.8 504.7 582.9 C501.2 584.9 496.2 585.1 492.5 585.8 C488.9 586.5 486.8 585.4 482.8 586.8 C478.7 588.1 471.8 590.8 468.1 593.9 C464.5 596.9 463.3 601.6 460.8 604.8 C458.3 608.1 454.3 612 453 613.4" pathLength="1" stroke-dasharray="0.3 2" stroke-width="4.1"/><path d="M514 573.6 C512.5 575.1 508.3 580.8 504.7 582.9 C501.2 584.9 496.2 585.1 492.5 585.8 C488.9 586.5 486.8 585.4 482.8 586.8 C478.7 588.1 471.8 590.8 468.1 593.9 C464.5 596.9 463.3 601.6 460.8 604.8 C458.3 608.1 454.3 612 453 613.4" pathLength="1" stroke-dasharray="0.15 2" stroke-width="4.6"/>
</g>
</g>

<!-- ERP TEXT -->
<g id="erp" font-weight="700" fill="#5a8db2" stroke="#5a8db2" stroke-width="0.9" stroke-linejoin="round">
  <text x="457.5" y="517" font-size="60" textLength="119" lengthAdjust="spacingAndGlyphs">ERP</text>
  <text x="457.5" y="517" font-size="60" textLength="119" lengthAdjust="spacingAndGlyphs" fill="#4f9ca9" stroke="#4f9ca9" clip-path="url(#trunkclip)">ERP</text>
  <text x="427.5" y="570" font-size="44" textLength="180" lengthAdjust="spacingAndGlyphs" opacity="0.93" stroke-width="0.6">SYSTEM</text>
</g>

<!-- ILLUSTRATIONS -->
<g id="ill1">
<path d="M107.9 258.1 L99 262.7 L99 288.6 L119.8 299.2" fill="none" stroke="#86c8dd" stroke-width="2.0" stroke-linecap="round" stroke-linejoin="round" />
<path d="M117 294.1 L128.2 301.8 L118.6 305.3 Z" fill="#86c8dd" />
<path d="M135.1 258.1 L154.6 267 L154.6 275.4" fill="none" stroke="#86c8dd" stroke-width="1.8" stroke-linecap="round" stroke-linejoin="round" />
<path d="M154.6 275.4 L157.9 276.4" fill="none" stroke="#86c8dd" stroke-width="1.8" stroke-linecap="round" stroke-linejoin="round" />
<path d="M149 251 L173.4 265.7 L173.4 283.5" fill="none" stroke="#86c8dd" stroke-width="1.8" stroke-linecap="round" stroke-linejoin="round" />
<path d="M135.1 273.8 L165.5 289.8" fill="none" stroke="#86c8dd" stroke-width="2.2" stroke-linecap="round" stroke-linejoin="round" />
<path d="M125.7 291.1 L138.9 297.4" fill="none" stroke="#86c8dd" stroke-width="1.8" stroke-linecap="round" stroke-linejoin="round" />
<ellipse cx="121.6" cy="284" rx="14.7" ry="5.6" fill="none" stroke="#cfe6ee" stroke-width="1.6"/>
<path d="M107.9 243.4 L107.9 278.9 A13.7 5.6 0 0 0 135.3 278.9 L135.3 243.4 Z" fill="url(#g1tank)"/>
<path d="M107.9 243.4 L135.3 243.4 L135.3 252.5 L107.9 252.5 Z" fill="#5288b0" />
<path d="M107.9 252 A13.7 5.6 0 0 0 135.3 252 L135.3 245.4 A13.7 5.6 0 0 1 107.9 245.4 Z" fill="#5288b0"/>
<ellipse cx="121.6" cy="242.9" rx="13.7" ry="6.1" fill="#86bcd8" />
<path d="M95.7 336.3 L104.6 341.9 L116.5 337.6" fill="none" stroke="#86c8dd" stroke-width="1.4" stroke-linecap="round" stroke-linejoin="round" />
<path d="M97.4 318.7 L101.1 319.2 L102.1 324.2 L98.7 325.5 L97.9 330.5 L100.5 333.8 L98.2 337.7 L94.7 335.8 L90.9 338.3 L90.9 342.5 L86.6 343 L85 339 L80.5 337.5 L77.8 340.1 L74.1 336.9 L75.3 333.1 L72.7 328.5 L69 328 L68 323 L71.4 321.7 L72.1 316.7 L69.5 313.4 L71.9 309.5 L75.4 311.3 L79.2 308.9 L79.2 304.7 L83.5 304.2 L85.1 308.2 L89.6 309.7 L92.3 307.1 L96 310.3 L94.8 314.1 Z" fill="#5a9cc0" stroke="#5a9cc0" stroke-width="1.2" stroke-linejoin="round"/>
<path d="M91.8 317.1 L95.5 317.7 L96.5 322.6 L93.1 324 L92.3 329 L95 332.3 L92.6 336.2 L89.1 334.3 L85.3 336.8 L85.3 341 L81 341.5 L79.4 337.5 L74.9 336 L72.2 338.5 L68.5 335.4 L69.7 331.6 L67.1 327 L63.4 326.5 L62.4 321.5 L65.8 320.2 L66.6 315.2 L63.9 311.8 L66.3 308 L69.8 309.8 L73.6 307.4 L73.6 303.2 L77.9 302.7 L79.5 306.7 L84 308.2 L86.7 305.6 L90.4 308.8 L89.2 312.5 Z" fill="#84c2db" stroke="#84c2db" stroke-width="1.2" stroke-linejoin="round"/>
<ellipse cx="79.5" cy="322.1" rx="7.7" ry="9.1" fill="#5a9cc0" transform="rotate(-21.8 79.5 322.1)"/>
<ellipse cx="83.9" cy="323" rx="6.3" ry="7.5" fill="#fdfefe" transform="rotate(-21.8 79.5 322.1)"/>
<ellipse cx="224.7" cy="271.5" rx="5" ry="6" fill="none" stroke="#74bfd9" stroke-width="1.5"/>
<path d="M248.4 264.2 L250 266.5 L248 269.5 L245.6 268.4 L243 270.9 L243 274.3 L240.2 275.8 L239.2 272.9 L236.3 273.4 L234.6 276.7 L232 276 L232.8 272.5 L230.8 270.7 L228 272.6 L226.7 270.1 L229 267.2 L228.5 263.9 L225.8 263.7 L226.3 260.2 L229.1 259.1 L230.5 255.5 L228.8 253.3 L230.8 250.2 L233.2 251.3 L235.8 248.8 L235.9 245.4 L238.7 243.9 L239.6 246.8 L242.5 246.3 L244.3 243 L246.8 243.7 L246 247.3 L248.1 249 L250.8 247.1 L252.1 249.7 L249.8 252.5 L250.3 255.8 L253 256.1 L252.6 259.5 L249.7 260.6 Z" fill="#5a9cc0" stroke="#5a9cc0" stroke-width="1.2" stroke-linejoin="round"/>
<path d="M250.4 262.9 L252 265.2 L250 268.3 L247.7 267.1 L245.1 269.6 L245 273.1 L242.2 274.6 L241.2 271.7 L238.3 272.1 L236.6 275.4 L234.1 274.8 L234.9 271.2 L232.8 269.4 L230 271.3 L228.8 268.8 L231 265.9 L230.6 262.6 L227.9 262.4 L228.3 258.9 L231.2 257.8 L232.5 254.3 L230.9 252 L232.8 248.9 L235.2 250.1 L237.8 247.6 L237.9 244.1 L240.7 242.6 L241.7 245.5 L244.6 245.1 L246.3 241.8 L248.8 242.4 L248 246 L250.1 247.8 L252.9 245.8 L254.1 248.4 L251.9 251.3 L252.3 254.6 L255 254.8 L254.6 258.3 L251.7 259.3 Z" fill="#7abdd8" stroke="#7abdd8" stroke-width="1.2" stroke-linejoin="round"/>
<ellipse cx="241.4" cy="258.6" rx="5.3" ry="7.6" fill="#5a9cc0" transform="rotate(25.8 241.4 258.6)"/>
<ellipse cx="239.8" cy="259.4" rx="4.4" ry="6.2" fill="#fdfefe" transform="rotate(25.8 241.4 258.6)"/>
<path d="M234.1 302.5 L288.7 272.1" fill="none" stroke="#86c8dd" stroke-width="2.2" stroke-linecap="round" stroke-linejoin="round" />
<path d="M250.6 301.8 L282.3 284" fill="none" stroke="#86c8dd" stroke-width="2.2" stroke-linecap="round" stroke-linejoin="round" />
<path d="M255.2 324.1 L267.9 317" fill="none" stroke="#86c8dd" stroke-width="2.2" stroke-linecap="round" stroke-linejoin="round" />
<path d="M262.8 314.5 L271.4 314.5 L267.3 322.1 Z" fill="#86c8dd" />
<path d="M255.7 344.4 L288.7 326.6" fill="none" stroke="#86c8dd" stroke-width="2.2" stroke-linecap="round" stroke-linejoin="round" />
<path d="M270.9 343.7 L309 324.6" fill="none" stroke="#86c8dd" stroke-width="2.2" stroke-linecap="round" stroke-linejoin="round" />
<path d="M88.2 421.4 v5 a6.2 4 0 0 0 12.4 0 v-5 Z" fill="#2f5d82"/>
<path d="M143.6 445 v5 a6.2 4 0 0 0 12.4 0 v-5 Z" fill="#2f5d82"/>
<path d="M182.9 443.7 v5 a6.2 4 0 0 0 12.4 0 v-5 Z" fill="#2f5d82"/>
<path d="M261.7 403.6 v5 a6.2 4 0 0 0 12.4 0 v-5 Z" fill="#2f5d82"/>
<path d="M69.8 387.6 L171.9 431.2 L171.9 453.6 L75.4 412.5 Q69.8 409.9 69.8 404.1 Z" fill="#8ec7df"/>
<path d="M171.9 431.2 L287.1 372.9 Q289.9 378.7 288.7 387.6 L284.9 397.7 L171.9 453.6 Z" fill="#5f9cc1"/>
<path d="M70.3 388.1 L171.9 432.3 L288.7 372.9 L192.2 331.7 L159.2 339.3 Z" fill="#3a6d95" />
<path d="M77.4 387.6 L171.9 428.2 L280.5 372.9 L192.2 335.5 L159.2 343.1 Z" fill="#8dc7de" />
<path d="M98.2 396.5 L126.2 382.5" fill="none" stroke="#5a90b4" stroke-width="0.9" stroke-linecap="round" stroke-linejoin="round" />
<path d="M126.2 408.4 L156.6 393.2" fill="none" stroke="#5a90b4" stroke-width="0.9" stroke-linecap="round" stroke-linejoin="round" />
<path d="M150.3 418.8 L184.6 401.5" fill="none" stroke="#5a90b4" stroke-width="0.9" stroke-linecap="round" stroke-linejoin="round" />
<path d="M165.5 425.7 L202.3 407.4" fill="none" stroke="#5a90b4" stroke-width="0.9" stroke-linecap="round" stroke-linejoin="round" />
<path d="M212.5 399 L250.6 380" fill="none" stroke="#5a90b4" stroke-width="0.9" stroke-linecap="round" stroke-linejoin="round" />
<path d="M232.8 389.6 L268.4 372.3" fill="none" stroke="#5a90b4" stroke-width="0.9" stroke-linecap="round" stroke-linejoin="round" />
<path d="M88.1 391.6 L169.3 426.2" fill="none" stroke="#a9d3e5" stroke-width="0.8" stroke-linecap="round" stroke-linejoin="round" />
<circle cx="80" cy="405.4" r="6.8" fill="#3a6d95"/>
<circle cx="80" cy="405.4" r="5" fill="#b4d9e8"/>
<circle cx="80.4" cy="405.8" r="3.4" fill="#8cbdd6"/>
<circle cx="154.6" cy="437.9" r="7.2" fill="#3a6d95"/>
<circle cx="154.6" cy="437.9" r="5.3" fill="#b4d9e8"/>
<circle cx="155" cy="438.3" r="3.6" fill="#8cbdd6"/>
<circle cx="185.3" cy="436.3" r="7" fill="#3a6d95"/>
<circle cx="185.3" cy="436.3" r="5.2" fill="#b4d9e8"/>
<circle cx="185.7" cy="436.7" r="3.5" fill="#8cbdd6"/>
<circle cx="281.1" cy="385" r="6.6" fill="#3a6d95"/>
<circle cx="281.1" cy="385" r="4.9" fill="#b4d9e8"/>
<circle cx="281.5" cy="385.4" r="3.3" fill="#8cbdd6"/>
<path d="M97 409.2 L104.6 412.5 L104.6 420.6 L97 417.3 Z" fill="#3a6d95" />
<path d="M127.4 422.4 L136.3 426.2 L136.3 434.6 L127.4 430.7 Z" fill="#3a6d95" />
<path d="M201.8 422.4 L215 416 L215 424.6 L201.8 431 Z" fill="#2f5f88" stroke="#2f5f88" stroke-width="1.5" stroke-linejoin="round"/>
<path d="M225.2 410.9 L239.2 404.1 L239.2 412.5 L225.2 419.3 Z" fill="#2f5f88" stroke="#2f5f88" stroke-width="1.5" stroke-linejoin="round"/>
<path d="M249.3 399 L262 392.7 L262 400.3 L249.3 406.6 Z" fill="#2f5f88" stroke="#2f5f88" stroke-width="1.5" stroke-linejoin="round"/>
<path d="M288.4 386.2 L311.9 395.6" fill="none" stroke="#86c8dd" stroke-width="1.5" stroke-linecap="round" stroke-linejoin="round" />
<path d="M286.9 392.5 L293.9 395.3" fill="none" stroke="#86c8dd" stroke-width="1.3" stroke-linecap="round" stroke-linejoin="round" />
<path d="M250.9 396.4 L281.4 409.4" fill="none" stroke="#86c8dd" stroke-width="1.5" stroke-linecap="round" stroke-linejoin="round" />
<path d="M197.3 334.5 L254.3 311.9 L254.3 375.9 L197.3 407.2 Z" fill="#6aa3c8" />
<path d="M114.6 323.2 L197.3 336.5 L197.3 407.2 L175.2 396.4 L134.2 377.9 L114.6 368.1 Z" fill="#5691b7" />
<path d="M134.2 328.1 L175.2 342.7 L175.2 396.4 L134.2 377.9 Z" fill="#5f9cc1" />
<path d="M134.2 328.1 L175.2 342.7 L175.2 348.6 L142 336.9 L142 354.5 L134.2 357.4 Z" fill="#4a84ab" />
<path d="M146.5 355.4 L175.2 366.6" fill="none" stroke="#a3d2e6" stroke-width="11" stroke-linecap="round"/>
<path d="M145.3 358.8 L175.2 370.1" fill="none" stroke="#7fb6d3" stroke-width="3" stroke-linecap="round"/>
<path d="M114.6 325.2 L134.2 332 L134.2 377.9 L114.6 368.1 Z" fill="#8ec6df" />
<path d="M134.2 332 L142 329.1 L142 354.5 L134.2 357.4 Z" fill="#6a9fc4" />
<path d="M113.7 326.1 L120.5 321.2 L142 328.1 L134.2 333.9 Z" fill="#cfe8f2" />
<path d="M118.6 348.6 L128.3 352.5 L128.3 367.1 L118.6 363.2 Z" fill="#7db4d4" stroke="#4f86af" stroke-width="2.4" stroke-linejoin="round"/>
<path d="M121.1 353.5 L125 355 L125 358.8 L121.1 357.2 Z" fill="#b5dcea" />
<path d="M121.1 359.3 L125 360.9 L125 363.8 L121.1 362.3 Z" fill="#5e95bb" />
<path d="M175.2 342.3 L197.3 339.8 L197.3 407.2 L175.2 396.4 Z" fill="#8ec6df" />
<path d="M175.2 342.3 L180.1 341.2 L180.1 398.6 L175.2 396.4 Z" fill="#a4d1e5" />
<path d="M179.1 374.4 L188.9 378.3 L188.9 392.5 L179.1 388.6 Z" fill="#7db4d4" stroke="#4f86af" stroke-width="2.4" stroke-linejoin="round"/>
<path d="M181.6 378.9 L185.9 380.6 L185.9 384.1 L181.6 382.4 Z" fill="#b5dcea" />
<path d="M181.6 384.7 L185.9 386.5 L185.9 389.2 L181.6 387.5 Z" fill="#a5cfe2" />
<ellipse cx="180.5" cy="366.2" rx="3.3" ry="3.3" fill="#5691b7" />
<ellipse cx="180.5" cy="366.2" rx="2.3" ry="2.5" fill="#f0963a" />
<path d="M121.9 313 L197.3 334.5 L197.3 341.2 L139.1 328.1 L119.5 321.2 Z" fill="#a9d6e8" />
<path d="M123 311.9 L174.4 284 Q180 281.4 187.1 284 L254.3 311.9 L197.3 334.5 Q193.8 335.3 189.8 333.4 Z" fill="#93c9df"/>
<path d="M123 311.9 L197.3 334.5 L197.3 336.9 L121.9 314.2 Z" fill="#a6d5e7" />
<path d="M203.9 317.3 L224.6 327.1 L224.6 392" fill="none" stroke="#4a7fa8" stroke-width="1.0" stroke-linecap="round" stroke-linejoin="round" />
<path d="M204.5 347 L219.1 339.8 L219.1 380.8 L204.5 387.7 Z" fill="#315e88" />
<path d="M206.1 349.6 L217.8 344.1 L217.8 356.4 L206.1 361.9 Z" fill="#3f6f99" />
<path d="M206.4 361.9 L210.9 359.7 L210.9 370.1 L206.4 372 Z" fill="#a8d2e4" />
<path d="M212.9 358.8 L217.6 356.6 L217.6 366.6 L212.9 368.7 Z" fill="#8cc0da" />
<path d="M206.1 374 L217.8 368.5 L217.8 378.9 L206.1 384.3 Z" fill="#44759e" />
<path d="M231.8 330 L247.5 322.8 L247.5 341.8 L231.8 349.2 Z" fill="#3a6a93" />
<path d="M233.4 332 L247.5 325.5 L247.5 341.8 L233.4 348.2 Z" fill="#2f5d87" />
<path d="M228.5 358.8 L235.7 355.4 L235.7 365.2 L228.5 368.5 Z" fill="#a5cfe2" />
<path d="M239.6 353.5 L246.9 350.2 L246.9 359.9 L239.6 363.2 Z" fill="#f4a93a" />
<path d="M227.9 370.5 L234.8 367.3 L234.8 376.3 L227.9 379.5 Z" fill="#95c4dc" />
<path d="M241 365.2 L248.4 361.9 L248.4 369.7 L241 373 Z" fill="#86b6d2" />
<path d="M236.7 367.7 L239.5 366.6 L239.5 374.4 L236.7 375.5 Z" fill="#5691b7" />
<path d="M187.4 306.3 L187.4 312.9 A11.9 4.1 0 0 0 211.2 312.9 L211.2 306.3 Z" fill="#5c92b8"/>
<path d="M188.4 247.9 L188.4 311.4 A10.9 3.6 0 0 0 210.2 311.4 L210.2 247.9 Z" fill="url(#g1chim)"/>
<path d="M188.4 274.6 A10.9 3.6 0 0 0 210.2 274.6" fill="none" stroke="#5a90b6" stroke-width="1"/>
<path d="M188.4 283.5 A10.9 3.6 0 0 0 210.2 283.5" fill="none" stroke="#5a90b6" stroke-width="1"/>
<path d="M188.4 292.4 A10.9 3.6 0 0 0 210.2 292.4" fill="none" stroke="#5a90b6" stroke-width="1"/>
<path d="M188.4 301.2 A10.9 3.6 0 0 0 210.2 301.2" fill="none" stroke="#5a90b6" stroke-width="1"/>
<path d="M188.4 247.9 L188.4 272.1 A10.9 3.6 0 0 0 210.2 272.1 L210.2 247.9 Z" fill="url(#g1chim2)"/>
<ellipse cx="199.3" cy="247.9" rx="10.9" ry="6.6" fill="#3f6a8f" />
<path d="M166.8 278.9 L166.8 297.4" fill="none" stroke="#86c8dd" stroke-width="1.3" stroke-linecap="round" stroke-linejoin="round" />
<path d="M161 300.7 L161 303.3 A5.8 2 0 0 0 172.6 303.3 L172.6 300.7 Z" fill="#4f86af"/>
<ellipse cx="166.8" cy="300.2" rx="5.8" ry="3.3" fill="#7db2d1" />
<path d="M158.6 368.5 L107.1 403.3 L127.4 413 L175.2 386.1 Z" fill="#f4b64c"/>
<path d="M159.8 370.7 L110.2 403.8 L124.6 410.4 L175.2 383 Z" fill="#fbe3b6"/>
<path d="M106.4 402.8 L127.4 412.5 C124.4 420.5 128.7 424.4 127.7 444.4 L126.7 450.3 L108.6 463.8 L107.6 452.2 L88.4 453.4 L105.2 441 C105.7 426 102.4 414.8 106.4 402.8 Z" fill="#f4b64c"/>
<path d="M109.4 405.9 L124.6 412.5 L123.8 445.2 L122.3 450.5 L109.9 459.8 L107.1 442.7 Z" fill="#fbe3b6"/>
<path d="M105.2 442 L108.9 443.4 L109.3 459.1 L108.1 452.2 L92.5 452.7 Z" fill="#f9d9a0"/>
<path d="M154.8 377.2 l8 3.8" stroke="#f4b64c" stroke-width="0.9" fill="none"/>
<path d="M147.4 382.2 l8 3.8" stroke="#f4b64c" stroke-width="0.9" fill="none"/>
<path d="M140 387.2 l8 3.8" stroke="#f4b64c" stroke-width="0.9" fill="none"/>
<path d="M132.5 392.2 l8 3.8" stroke="#f4b64c" stroke-width="0.9" fill="none"/>
<path d="M125.1 397.1 l8 3.8" stroke="#f4b64c" stroke-width="0.9" fill="none"/>
<path d="M117.6 402.1 l8 3.8" stroke="#f4b64c" stroke-width="0.9" fill="none"/>
<path d="M113.5 417.5 l9.5 4.2" stroke="#f4b64c" stroke-width="0.9" fill="none"/>
<path d="M113.2 423.7 l9.5 4.2" stroke="#f4b64c" stroke-width="0.9" fill="none"/>
<path d="M113 429.9 l9.5 4.2" stroke="#f4b64c" stroke-width="0.9" fill="none"/>
<path d="M112.7 436.1 l9.5 4.2" stroke="#f4b64c" stroke-width="0.9" fill="none"/>
<path d="M112.5 442.3 l9.5 4.2" stroke="#f4b64c" stroke-width="0.9" fill="none"/>
<path d="M112.2 448.5 l9.5 4.2" stroke="#f4b64c" stroke-width="0.9" fill="none"/>
<path d="M278.3 313.8 L333.8 338.4 L333.8 342.8 L278.3 318.1 Z" fill="#68a3c8" />
<path d="M333.8 338.4 L390.8 307.5 L390.8 311.9 L333.8 342.8 Z" fill="#5288b2" />
<path d="M278.3 313.8 L333.8 338.4 L390.8 307.5 L340 284.1 Z" fill="#86bedb" />
<path d="M308.8 295 L365 259.1 L365 271.6 L350.2 280.9 L350.2 307.5 L308.8 312.2 Z" fill="#4a84ab" />
<path d="M309.5 298.1 L349.4 273.9" fill="none" stroke="#1f4a74" stroke-width="1.6" stroke-linecap="round" stroke-linejoin="round" />
<path d="M309.5 302 L349.4 277.8" fill="none" stroke="#1f4a74" stroke-width="1.6" stroke-linecap="round" stroke-linejoin="round" />
<path d="M309.5 305.9 L349.4 281.7" fill="none" stroke="#1f4a74" stroke-width="1.6" stroke-linecap="round" stroke-linejoin="round" />
<path d="M309.5 309.4 L349.4 285.6" fill="none" stroke="#1f4a74" stroke-width="1.6" stroke-linecap="round" stroke-linejoin="round" />
<path d="M308.8 295 L365 259.1" fill="none" stroke="#5f9cc1" stroke-width="2.2" stroke-linecap="round" stroke-linejoin="round" />
<path d="M310.3 282.5 L361.1 252 L365 259.1 L308.8 295 Z" fill="#5f95bb" />
<path d="M310.3 282.5 L322.8 263 L325.6 263.8 L325.2 275.5 L324.4 280.2 L310.3 287.2 Z" fill="#6fa4c8" />
<path d="M322.8 263 L325.6 263.8 L325.2 275.5 Z" fill="#8fc0da" />
<path d="M325.2 275.5 L334.5 256.2 L337.3 257 L337.7 267.7 L336.9 272.3 L325.2 280.2 Z" fill="#6fa4c8" />
<path d="M334.5 256.2 L337.3 257 L337.7 267.7 Z" fill="#8fc0da" />
<path d="M337.7 267.7 L347 249.2 L349.8 250 L350.2 259.8 L349.4 264.5 L337.7 272.3 Z" fill="#6fa4c8" />
<path d="M347 249.2 L349.8 250 L350.2 259.8 Z" fill="#8fc0da" />
<path d="M350.2 259.8 L358.8 243 L361.1 245 L361.1 259.8 L360.3 263.8 L350.2 264.5 Z" fill="#6fa4c8" />
<path d="M358.8 243 L361.1 245 L361.1 259.8 L359.5 259.1 Z" fill="#8fc0da" />
<path d="M285.3 287.5 L304.8 296.9 L304.8 321.6 L285.3 312.2 Z" fill="#6299c1" />
<path d="M304.8 296.9 L321.2 288.8 L321.2 313.8 L304.8 321.6 Z" fill="#4f86b0" />
<path d="M285.3 287.5 L301.7 280.2 L321.2 288.8 L304.8 296.9 Z" fill="#78b0d2" />
<path d="M290.8 298.9 L297.8 302.3 L297.8 309.4 L290.8 305.9 Z" fill="#b5dcea" />
<path d="M294.2 263.8 L294.2 286.4 A7.4 2.8 0 0 0 309.1 286.4 L309.1 263.8 Z" fill="url(#g1chim2)"/>
<ellipse cx="301.6" cy="263.4" rx="7.3" ry="4.1" fill="#5a8fb7" />
<ellipse cx="301.6" cy="263.1" rx="5.9" ry="3" fill="#6b9fc4" />
<path d="M350.2 271.6 L365.5 279.4 L365.5 319.7 L350.2 311.9 Z" fill="#6fa8cb" />
<path d="M365.5 279.4 L380.8 271.6 L380.8 311.9 L365.5 319.7 Z" fill="#5f97bd" />
<path d="M350.2 278.3 L365.5 286.1 L380.8 278.3" fill="none" stroke="#a9d1e4" stroke-width="0.7" stroke-linecap="round" stroke-linejoin="round" />
<path d="M350.2 285 L365.5 292.8 L380.8 285" fill="none" stroke="#a9d1e4" stroke-width="0.7" stroke-linecap="round" stroke-linejoin="round" />
<path d="M350.2 291.7 L365.5 299.5 L380.8 291.7" fill="none" stroke="#a9d1e4" stroke-width="0.7" stroke-linecap="round" stroke-linejoin="round" />
<path d="M350.2 298.4 L365.5 306.2 L380.8 298.4" fill="none" stroke="#a9d1e4" stroke-width="0.7" stroke-linecap="round" stroke-linejoin="round" />
<path d="M350.2 305.2 L365.5 313 L380.8 305.2" fill="none" stroke="#a9d1e4" stroke-width="0.7" stroke-linecap="round" stroke-linejoin="round" />
<path d="M350.2 271.6 L365.5 279.4 L380.8 271.6 L365.5 263.8 Z" fill="#93c9e0" stroke="#93c9e0" stroke-width="1.4" stroke-linejoin="round"/>
<path d="M358.6 271.6 L365.5 275.1 L372.4 271.6 L365.5 268 Z" fill="#d9eef5" />
<path d="M318.9 302.5 L334.2 310 L334.2 336.2 L318.9 328.8 Z" fill="#6fa8cb" />
<path d="M334.2 310 L349.5 302.5 L349.5 328.8 L334.2 336.2 Z" fill="#5f97bd" />
<path d="M318.9 309.1 L334.2 316.6 L349.5 309.1" fill="none" stroke="#a9d1e4" stroke-width="0.7" stroke-linecap="round" stroke-linejoin="round" />
<path d="M318.9 315.6 L334.2 323.1 L349.5 315.6" fill="none" stroke="#a9d1e4" stroke-width="0.7" stroke-linecap="round" stroke-linejoin="round" />
<path d="M318.9 322.2 L334.2 329.7 L349.5 322.2" fill="none" stroke="#a9d1e4" stroke-width="0.7" stroke-linecap="round" stroke-linejoin="round" />
<path d="M318.9 302.5 L334.2 310 L349.5 302.5 L334.2 295 Z" fill="#93c9e0" stroke="#93c9e0" stroke-width="1.4" stroke-linejoin="round"/>
<path d="M327.3 302.5 L334.2 305.9 L341.1 302.5 L334.2 299.1 Z" fill="#d9eef5" />
<path d="M260.3 431.6 L308.8 452.7 L308.8 456.7 L260.3 435.6 Z" fill="#68a3c8" />
<path d="M308.8 452.7 L375.6 415.9 L375.6 420 L308.8 456.7 Z" fill="#5288b2" />
<path d="M260.3 431.6 L308.8 452.7 L375.6 415.9 L327.5 394.8 Z" fill="#86bedb" />
<path d="M332 359.2 L347.3 367.3 L347.3 406.7 L332 398.6 Z" fill="#6fa8cb" />
<path d="M347.3 367.3 L362.7 359.2 L362.7 398.6 L347.3 406.7 Z" fill="#5f97bd" />
<path d="M332 365.8 L347.3 373.9 L362.7 365.8" fill="none" stroke="#a9d1e4" stroke-width="0.7" stroke-linecap="round" stroke-linejoin="round" />
<path d="M332 372.3 L347.3 380.5 L362.7 372.3" fill="none" stroke="#a9d1e4" stroke-width="0.7" stroke-linecap="round" stroke-linejoin="round" />
<path d="M332 378.9 L347.3 387 L362.7 378.9" fill="none" stroke="#a9d1e4" stroke-width="0.7" stroke-linecap="round" stroke-linejoin="round" />
<path d="M332 385.5 L347.3 393.6 L362.7 385.5" fill="none" stroke="#a9d1e4" stroke-width="0.7" stroke-linecap="round" stroke-linejoin="round" />
<path d="M332 392 L347.3 400.2 L362.7 392" fill="none" stroke="#a9d1e4" stroke-width="0.7" stroke-linecap="round" stroke-linejoin="round" />
<path d="M332 359.2 L347.3 367.3 L362.7 359.2 L347.3 351.1 Z" fill="#93c9e0" stroke="#93c9e0" stroke-width="1.4" stroke-linejoin="round"/>
<path d="M340.5 359.2 L347.3 362.9 L354.2 359.2 L347.3 355.6 Z" fill="#d9eef5" />
<path d="M310.5 396.9 L325.6 404.7 L325.6 412.8 L310.5 405 Z" fill="#76afcf" />
<path d="M325.6 404.7 L340.8 396.9 L340.8 405 L325.6 412.8 Z" fill="#649dc1" />
<path d="M310.5 400.9 L325.6 408.8 L340.8 400.9" fill="none" stroke="#a9d1e4" stroke-width="0.7" stroke-linecap="round" stroke-linejoin="round" />
<path d="M310.5 396.9 L325.6 404.7 L340.8 396.9 L325.6 389.1 Z" fill="#8cc4de" stroke="#8cc4de" stroke-width="1.4" stroke-linejoin="round"/>
<path d="M318.8 396.9 L325.6 400.4 L332.4 396.9 L325.6 393.4 Z" fill="#d9eef5" />
<path d="M288.1 408.6 L303.3 416.4 L303.3 424.5 L288.1 416.7 Z" fill="#76afcf" />
<path d="M303.3 416.4 L318.4 408.6 L318.4 416.7 L303.3 424.5 Z" fill="#649dc1" />
<path d="M288.1 412.7 L303.3 420.5 L318.4 412.7" fill="none" stroke="#a9d1e4" stroke-width="0.7" stroke-linecap="round" stroke-linejoin="round" />
<path d="M288.1 408.6 L303.3 416.4 L318.4 408.6 L303.3 400.8 Z" fill="#8cc4de" stroke="#8cc4de" stroke-width="1.4" stroke-linejoin="round"/>
<path d="M296.5 408.6 L303.3 412.1 L310.1 408.6 L303.3 405.1 Z" fill="#d9eef5" />
<path d="M335 406.6 L350.2 414.4 L350.2 422.5 L335 414.7 Z" fill="#76afcf" />
<path d="M350.2 414.4 L365.3 406.6 L365.3 414.7 L350.2 422.5 Z" fill="#649dc1" />
<path d="M335 410.6 L350.2 418.4 L365.3 410.6" fill="none" stroke="#a9d1e4" stroke-width="0.7" stroke-linecap="round" stroke-linejoin="round" />
<path d="M335 406.6 L350.2 414.4 L365.3 406.6 L350.2 398.8 Z" fill="#8cc4de" stroke="#8cc4de" stroke-width="1.4" stroke-linejoin="round"/>
<path d="M343.3 406.6 L350.2 410.1 L357 406.6 L350.2 403 Z" fill="#d9eef5" />
<path d="M268.3 421.4 L283.4 429.2 L283.4 437.3 L268.3 429.5 Z" fill="#76afcf" />
<path d="M283.4 429.2 L298.6 421.4 L298.6 429.5 L283.4 437.3 Z" fill="#649dc1" />
<path d="M268.3 425.5 L283.4 433.3 L298.6 425.5" fill="none" stroke="#a9d1e4" stroke-width="0.7" stroke-linecap="round" stroke-linejoin="round" />
<path d="M268.3 421.4 L283.4 429.2 L298.6 421.4 L283.4 413.6 Z" fill="#8cc4de" stroke="#8cc4de" stroke-width="1.4" stroke-linejoin="round"/>
<path d="M276.6 421.4 L283.4 424.9 L290.3 421.4 L283.4 417.9 Z" fill="#d9eef5" />
<path d="M312.7 419.5 L327.8 427.3 L327.8 435.5 L312.7 427.7 Z" fill="#76afcf" />
<path d="M327.8 427.3 L343 419.5 L343 427.7 L327.8 435.5 Z" fill="#649dc1" />
<path d="M312.7 423.6 L327.8 431.4 L343 423.6" fill="none" stroke="#a9d1e4" stroke-width="0.7" stroke-linecap="round" stroke-linejoin="round" />
<path d="M312.7 419.5 L327.8 427.3 L343 419.5 L327.8 411.7 Z" fill="#8cc4de" stroke="#8cc4de" stroke-width="1.4" stroke-linejoin="round"/>
<path d="M321 419.5 L327.8 423 L334.6 419.5 L327.8 416 Z" fill="#d9eef5" />
<path d="M291.6 431.9 L306.7 439.7 L306.7 447.8 L291.6 440 Z" fill="#76afcf" />
<path d="M306.7 439.7 L321.9 431.9 L321.9 440 L306.7 447.8 Z" fill="#649dc1" />
<path d="M291.6 435.9 L306.7 443.8 L321.9 435.9" fill="none" stroke="#a9d1e4" stroke-width="0.7" stroke-linecap="round" stroke-linejoin="round" />
<path d="M291.6 431.9 L306.7 439.7 L321.9 431.9 L306.7 424.1 Z" fill="#8cc4de" stroke="#8cc4de" stroke-width="1.4" stroke-linejoin="round"/>
<path d="M299.9 431.9 L306.7 435.4 L313.5 431.9 L306.7 428.4 Z" fill="#d9eef5" />
</g>
<g id="ill2">
<path d="M650.6 270.3 L770.9 236.9 L770.9 329.4 L650.6 361.4 Z" fill="#28547f" stroke="#28547f" stroke-width="4" stroke-linejoin="round"/>
<path d="M655.3 271.9 L775.2 239.1 L775.2 330.2 L655.3 362.5 Z" fill="url(#g2bezL)" stroke="url(#g2bezL)" stroke-width="4" stroke-linejoin="round"/>
<path d="M661.1 277 L716.1 262.2 L716.1 305.2 L661.1 320 Z" fill="#86c1dd" />
<path d="M720.5 260.9 L768.9 247.8 L768.9 290.3 L720.5 303.6 Z" fill="#7fbbd9" />
<path d="M661.1 325.5 L695.5 316.6 L695.5 345 L661.1 354.4 Z" fill="#7fbbd9" />
<path d="M696.6 316.1 L735.3 305.6 L735.3 334.8 L696.6 345 Z" fill="#9ccfe4" />
<path d="M736.4 305.2 L768.9 296.6 L768.9 326.2 L736.4 334.8 Z" fill="#86c1dd" />
<path d="M665 305.9 L672 304 L672 314.7 L665 316.6 Z" fill="#e8f4f9" />
<path d="M675.2 286.4 L682.2 284.5 L682.2 311.9 L675.2 313.8 Z" fill="#e8f4f9" />
<path d="M685.6 294.2 L692.8 292.3 L692.8 309 L685.6 310.9 Z" fill="#e8f4f9" />
<path d="M696.2 286.4 L703.3 284.5 L703.3 306.1 L696.2 308 Z" fill="#e8f4f9" />
<path d="M706.4 274.7 L713.4 272.8 L713.4 303.3 L706.4 305.2 Z" fill="#e8f4f9" />
<path d="M743.9 271.9 L748.9 270.5 L748.9 293.6 L743.9 295 Z" fill="#e8f4f9" />
<path d="M751.7 278.6 L756.7 277.2 L756.7 291.6 L751.7 293 Z" fill="#e8f4f9" />
<path d="M759.8 265.6 L765 264.2 L765 289.2 L759.8 290.6 Z" fill="#e8f4f9" />
<path d="M726.7 291.9 L733.8 281.7 L740 272.3" fill="none" stroke="#cfe7f1" stroke-width="0.5" stroke-linecap="round" stroke-linejoin="round" />
<path d="M725.2 268.4 L725.2 293.4" fill="none" stroke="#b9dcea" stroke-width="0.5" stroke-linecap="round" stroke-linejoin="round" stroke-dasharray="1 1.5"/>
<path d="M731.4 266.9 L743.1 263.8 L754.1 260.9 L763.4 257.5" fill="none" stroke="#b9dcea" stroke-width="0.5" stroke-linecap="round" stroke-linejoin="round" />
<path d="M667.8 331.7 L686.9 325 L686.9 341.6 L667.8 345.8 Z" fill="#d9edf5" />
<path d="M668.4 332.5 L673.6 338.8 L679.8 334.8 L686.6 326.2" fill="none" stroke="#7fb6d5" stroke-width="0.6" stroke-linecap="round" stroke-linejoin="round" />
<path d="M668.4 343.4 L673.6 336.4 L679.1 338.8 L686.6 329.4" fill="none" stroke="#9ccbe2" stroke-width="0.5" stroke-linecap="round" stroke-linejoin="round" />
<path d="M700.2 320 L708 318" fill="none" stroke="#4f86ae" stroke-width="1.3" stroke-linecap="butt" stroke-linejoin="round" />
<path d="M709.5 317.7 L731.4 311.9" fill="none" stroke="#4f86ae" stroke-width="1.3" stroke-linecap="butt" stroke-linejoin="round" />
<path d="M700.2 325.5 L721.2 320" fill="none" stroke="#4f86ae" stroke-width="1.3" stroke-linecap="butt" stroke-linejoin="round" />
<path d="M722.8 319.5 L731.4 317.2" fill="none" stroke="#4f86ae" stroke-width="1.3" stroke-linecap="butt" stroke-linejoin="round" />
<path d="M700.2 330.9 L718.1 326.2" fill="none" stroke="#4f86ae" stroke-width="1.3" stroke-linecap="butt" stroke-linejoin="round" />
<path d="M719.7 325.8 L731.4 322.7" fill="none" stroke="#4f86ae" stroke-width="1.3" stroke-linecap="butt" stroke-linejoin="round" />
<path d="M700.2 336.4 L708.8 334.2" fill="none" stroke="#4f86ae" stroke-width="1.3" stroke-linecap="butt" stroke-linejoin="round" />
<path d="M710.3 333.8 L724.4 330" fill="none" stroke="#4f86ae" stroke-width="1.3" stroke-linecap="butt" stroke-linejoin="round" />
<circle cx="753.3" cy="314.2" r="8.2" fill="none" stroke="#e3f2f8" stroke-width="2.6" stroke-dasharray="11 1.2 15 1.2 9 1.2 12 1.2"/>
<path d="M794.6 232.7 L940.2 287.7 L940.2 389.6 L794.6 335.1 Z" fill="#234e7a" stroke="#234e7a" stroke-width="4" stroke-linejoin="round"/>
<path d="M792 236.2 L935.2 290.3 L935.2 391.4 L792 337.4 Z" fill="url(#g2bezR)" stroke="url(#g2bezR)" stroke-width="4" stroke-linejoin="round"/>
<path d="M798.1 244.3 L871.6 271.3 L871.6 314 L798.1 289.4 Z" fill="#6ba5c8" />
<path d="M798.1 289.4 L871.6 314 L871.6 317 L798.1 292.4 Z" fill="#8fc5de" />
<path d="M798.1 295.9 L871.6 323.4 L871.6 355.4 L798.1 334.6 Z" fill="#8cc4df" />
<path d="M876.9 274.8 L929.1 294.2 L929.1 339.9 L876.9 320.5 Z" fill="#86bfdc" />
<path d="M876.9 325.8 L929.1 345.5 L929.1 382.6 L876.9 363.3 Z" fill="#8cc4df" />
<ellipse cx="816.6" cy="271.9" rx="10.2" ry="13.5" fill="none" stroke="#dcedf5" stroke-width="5" stroke-dasharray="30 1 12 1 20 1 9 1" transform="rotate(-12 816.6 271.9)"/>
<path d="M837.7 266.1 L866.3 276.6" fill="none" stroke="#c5e2ee" stroke-width="1.5" stroke-linecap="butt" stroke-linejoin="round" />
<path d="M837.7 271.3 L866.3 281.9" fill="none" stroke="#c5e2ee" stroke-width="1.5" stroke-linecap="butt" stroke-linejoin="round" />
<path d="M837.7 276.6 L846.5 279.8" fill="none" stroke="#c5e2ee" stroke-width="1.5" stroke-linecap="butt" stroke-linejoin="round" />
<path d="M848.2 280.5 L866.3 287.1" fill="none" stroke="#c5e2ee" stroke-width="1.5" stroke-linecap="butt" stroke-linejoin="round" />
<path d="M837.7 281.9 L866.3 292.4" fill="none" stroke="#c5e2ee" stroke-width="1.5" stroke-linecap="butt" stroke-linejoin="round" />
<path d="M837.7 287.1 L866.3 297.7" fill="none" stroke="#c5e2ee" stroke-width="1.5" stroke-linecap="butt" stroke-linejoin="round" />
<path d="M837.7 292.4 L851.7 297.7" fill="none" stroke="#c5e2ee" stroke-width="1.5" stroke-linecap="butt" stroke-linejoin="round" />
<path d="M855.3 294.7 L866.3 298.8" fill="none" stroke="#c5e2ee" stroke-width="1.5" stroke-linecap="butt" stroke-linejoin="round" />
<path d="M802 304 L835 316.3" fill="none" stroke="#e3f2f8" stroke-width="2.0" stroke-linecap="butt" stroke-linejoin="round" />
<path d="M802 311.1 L822.7 318.8" fill="none" stroke="#e3f2f8" stroke-width="2.0" stroke-linecap="butt" stroke-linejoin="round" />
<path d="M802 317 L826.2 326" fill="none" stroke="#e3f2f8" stroke-width="2.0" stroke-linecap="butt" stroke-linejoin="round" />
<path d="M802 323.7 L821.9 331.1" fill="none" stroke="#e3f2f8" stroke-width="2.0" stroke-linecap="butt" stroke-linejoin="round" />
<path d="M826.2 318.4 L840.3 323.7" fill="none" stroke="#e3f2f8" stroke-width="2.0" stroke-linecap="butt" stroke-linejoin="round" />
<path d="M881.6 338.1 L924.7 353.9" fill="none" stroke="#e6f3f9" stroke-width="4.0" stroke-linecap="butt" stroke-linejoin="round" />
<path d="M881.6 346.9 L910.6 357.5" fill="none" stroke="#e6f3f9" stroke-width="3.6" stroke-linecap="butt" stroke-linejoin="round" />
<path d="M881.6 354.5 L896.6 359.9" fill="none" stroke="#e6f3f9" stroke-width="3.8" stroke-linecap="butt" stroke-linejoin="round" />
<path d="M900.4 362 L924.7 370.8" fill="none" stroke="#e6f3f9" stroke-width="3.8" stroke-linecap="butt" stroke-linejoin="round" />
<path d="M891.3 292.9 C892.6 292.7 896.7 290.8 899.2 291.2 C901.7 291.6 904.6 293.8 906.2 295.6 C907.8 297.3 909 299.8 908.9 301.7 C908.7 303.6 906.7 306 905.4 307 C904 308 902 307.2 901 307.9 C899.9 308.6 899.9 311.4 899.2 311.4 C898.5 311.4 897.6 309.4 896.6 307.9 C895.5 306.4 894.2 304.4 893 302.6 C891.9 300.9 890.1 298.2 889.5 297.3 Z" fill="#3f719b"/>
<path d="M881.1 294.7 C881.9 294.3 884.6 292.3 886 292.4 C887.4 292.6 889.2 294.3 889.5 295.6 C889.8 296.8 888.9 298.9 887.8 300 C886.6 301.1 883.7 302.4 882.5 302.3 C881.3 302.1 880.7 299.6 880.4 299.1 Z" fill="#3f719b"/>
<path d="M881.6 306.1 C882.5 305.8 885.3 303.9 886.9 304.4 C888.5 304.8 890.8 307 891.3 308.8 C891.7 310.5 890.4 313.1 889.5 314.9 C888.7 316.8 887.4 319.7 886.4 319.8 C885.3 320 884.3 317.4 883.4 315.8 C882.5 314.2 881.5 311.4 881.1 310.5 Z" fill="#3f719b"/>
<path d="M908.9 292.9 C910 293.2 913.4 294 915.9 294.7 C918.4 295.4 922.4 296 923.8 297.3 C925.2 298.7 925.2 301.8 924.3 302.6 C923.5 303.4 920.4 302.8 918.5 302.3 C916.7 301.7 914.8 300.3 913.3 299.5 C911.7 298.6 909.9 297.7 909.2 297.3 Z" fill="#3f719b"/>
<path d="M908.9 317.6 C909.9 317.3 913.3 315.2 915 315.8 C916.8 316.4 919 319.1 919.4 321.1 C919.8 323 918.4 326.3 917.3 327.6 C916.2 328.8 914 329.3 912.7 328.6 C911.5 328 910.2 324.5 909.7 323.7 Z" fill="#3f719b"/>
<path d="M906.2 307.9 C907 307.7 909.7 306.4 910.6 307 C911.5 307.6 911.9 310.4 911.5 311.4 C911.1 312.4 908.6 312.9 908 313.2 Z" fill="#3f719b"/>
<path d="M917.3 297.3 L922.1 299.5 L917.7 301.2 Z" fill="#d9edf5" />
<path d="M675.8 398 L760.2 361.1 L915.8 420.2 L841.9 460.8 Z" fill="#3a6c96" stroke="#3a6c96" stroke-width="3" stroke-linejoin="round"/>
<path d="M675.8 390.7 L760.2 354.8 L915.8 412.8 L841.9 453.4 Z" fill="url(#g2desk)" stroke="#8dc7de" stroke-width="3" stroke-linejoin="round"/>
<path d="M674.2 391.7 L841.9 454.5 L841.9 462.4 L674.2 399.6 Z" fill="#4a80aa" />
<path d="M766.8 385.1 L786.6 376.7 L849.3 404.4 L820 420.2 Z" fill="#2b5783" stroke="#2b5783" stroke-width="1.5" stroke-linejoin="round"/>
<path d="M770.7 383.4 L825.9 417" fill="none" stroke="#3f6e9a" stroke-width="0.5" stroke-linecap="round" stroke-linejoin="round" />
<path d="M774.7 381.8 L831.8 413.9" fill="none" stroke="#3f6e9a" stroke-width="0.5" stroke-linecap="round" stroke-linejoin="round" />
<path d="M778.7 380.1 L837.6 410.7" fill="none" stroke="#3f6e9a" stroke-width="0.5" stroke-linecap="round" stroke-linejoin="round" />
<path d="M782.6 378.4 L843.5 407.5" fill="none" stroke="#3f6e9a" stroke-width="0.5" stroke-linecap="round" stroke-linejoin="round" />
<path d="M772.1 388.6 L792.8 379.5" fill="none" stroke="#3f6e9a" stroke-width="0.5" stroke-linecap="round" stroke-linejoin="round" />
<path d="M777.4 392.1 L799.1 382.2" fill="none" stroke="#3f6e9a" stroke-width="0.5" stroke-linecap="round" stroke-linejoin="round" />
<path d="M782.8 395.6 L805.4 385" fill="none" stroke="#3f6e9a" stroke-width="0.5" stroke-linecap="round" stroke-linejoin="round" />
<path d="M788.1 399.2 L811.7 387.8" fill="none" stroke="#3f6e9a" stroke-width="0.5" stroke-linecap="round" stroke-linejoin="round" />
<path d="M793.4 402.7 L817.9 390.5" fill="none" stroke="#3f6e9a" stroke-width="0.5" stroke-linecap="round" stroke-linejoin="round" />
<path d="M798.7 406.2 L824.2 393.3" fill="none" stroke="#3f6e9a" stroke-width="0.5" stroke-linecap="round" stroke-linejoin="round" />
<path d="M804.1 409.7 L830.5 396.1" fill="none" stroke="#3f6e9a" stroke-width="0.5" stroke-linecap="round" stroke-linejoin="round" />
<path d="M809.4 413.2 L836.8 398.8" fill="none" stroke="#3f6e9a" stroke-width="0.5" stroke-linecap="round" stroke-linejoin="round" />
<path d="M814.7 416.7 L843 401.6" fill="none" stroke="#3f6e9a" stroke-width="0.5" stroke-linecap="round" stroke-linejoin="round" />
<ellipse cx="856.4" cy="425.5" rx="13.7" ry="9" fill="#2f5d88" transform="rotate(-12 856.4 425.5)"/>
<ellipse cx="855.6" cy="423.4" rx="11.1" ry="6.3" fill="#44759f" transform="rotate(-12 856.4 425.5)"/>
<path d="M861.8 368 L875.1 387.3" fill="none" stroke="#2b5783" stroke-width="8.6" stroke-linecap="round" stroke-linejoin="round" />
<path d="M862.8 369.8 L868.4 377.9" fill="none" stroke="#467aa6" stroke-width="5.6" stroke-linecap="round" stroke-linejoin="round" />
<ellipse cx="847" cy="343.9" rx="22" ry="26" fill="#9fcfe3" stroke="#2f5b87" stroke-width="5.2" transform="rotate(-18 847 343.9)"/>
<ellipse cx="847" cy="343.9" rx="19.5" ry="23.5" fill="none" stroke="#5a8fb8" stroke-width="1.2" transform="rotate(-18 847 343.9)"/>
<path d="M834.2 353.6 L836.8 341.3 L840.3 346.6 L843.8 339.5 L847.3 350.1 L851.2 343 L855.3 348.3 L858.8 358.9 L834.2 354.5 Z" fill="#6fa5c7"/>
<path d="M834.2 332.5 L852.6 336 L852.6 341.3" fill="none" stroke="#d9edf5" stroke-width="0.7" stroke-linecap="round" stroke-linejoin="round" />
<path d="M836.8 327.2 L836.8 341.3" fill="none" stroke="#d9edf5" stroke-width="0.6" stroke-linecap="round" stroke-linejoin="round" />
<path d="M833.3 329 L850.9 334.3" fill="none" stroke="#d9edf5" stroke-width="0.6" stroke-linecap="round" stroke-linejoin="round" />
<path d="M714.1 396.5 C714.2 393.6 713.5 383.9 714.8 379.3 C716.2 374.7 719 371.4 722 368.8 C724.9 366.1 727.9 363.6 732.5 363.5 C737.1 363.4 744.8 365.8 749.6 368 C754.5 370.2 758.4 372.8 761.5 376.7 C764.6 380.6 766.1 386.1 768.1 391.2 C770.1 396.2 771.8 401.7 773.4 407 C774.9 412.3 777.1 417.6 777.3 422.8 C777.6 428.1 776.7 434.3 774.7 438.7 C772.7 443 771.4 447.7 765.5 449.2 C759.5 450.7 747.2 451.8 739.1 447.9 C731 443.9 720.4 429.2 716.7 425.5 Z" fill="#335f8a"/>
<path d="M763.4 385.9 L778.7 419.7 L804.5 407" fill="none" stroke="#335f8a" stroke-width="12.5" stroke-linecap="round" stroke-linejoin="round" />
<path d="M766.8 395.1 L780 418.9" fill="none" stroke="#2b5580" stroke-width="1.0" stroke-linecap="round" stroke-linejoin="round" />
<ellipse cx="811.6" cy="403.8" rx="8.4" ry="5.3" fill="#f0b78f" transform="rotate(-20 811.6 403.8)"/>
<path d="M735.9 356.9 L751 359.6 L751 367.5 L735.9 364.8 Z" fill="#eaa680" />
<path d="M731.2 362.2 L751.8 366.4 L751.8 370.1 L731.7 367.5 Z" fill="#f4f8fb" stroke="#f4f8fb" stroke-width="1" stroke-linejoin="round"/>
<path d="M744.9 338.5 C746.9 338.5 754.8 337.4 757 339 C759.3 340.5 758.3 344.9 758.3 347.7 C758.4 350.5 758.8 353.3 757.6 355.6 C756.3 357.9 753.3 361 751 361.7 C748.7 362.3 745.2 361.7 743.8 359.6 C742.5 357.4 743.2 350.8 743.1 349 Z" fill="#f2ba93"/>
<path d="M725.9 342.4 C725.8 340.9 724.3 336 725.4 333.2 C726.5 330.4 729.3 327.3 732.5 325.8 C735.7 324.3 741.3 324.7 744.4 324 C747.5 323.2 748.7 321.5 751 321.3 C753.3 321.2 756.5 321.7 758.1 323.2 C759.6 324.6 760.6 327.8 760.2 330 C759.8 332.2 756.8 334.9 755.4 336.3 C754.1 337.8 753 337.5 752.3 339 C751.5 340.4 751.8 343.8 751 345 C750.1 346.3 747.9 344.6 747 346.4 C746.1 348.1 747 353.3 745.7 355.6 C744.4 357.9 741.3 359.9 739.1 360.1 C736.9 360.3 734.4 358.8 732.5 356.9 C730.7 355.1 728.8 350.3 728 349 Z" fill="#1d2646"/>
<ellipse cx="748.6" cy="347.4" rx="2.1" ry="2.9" fill="#eaa680" />
<path d="M698.2 388 L738.6 401.7 L744.9 458.4 L702.7 443.4 Z" fill="#28527d" stroke="#28527d" stroke-width="4" stroke-linejoin="round"/>
<path d="M739.1 400.4 L743.8 402.3 L748.3 459.2 L744.9 459.7 Z" fill="#1d4169" />
<path d="M745.7 436 L765.5 439.2 L789.7 443.9 L748.3 461.6 Z" fill="#1f4670" />
</g>
<g id="ill3">
<ellipse cx="147.6" cy="926.5" rx="57.3" ry="18" fill="#d3e7f0" />
<path d="M102.2 902.9 L102.2 923.5 Q103.2 928.5 113.9 928.5 Q124.6 928.5 125.6 923.5 L125.6 902.9 Z" fill="#ee8b9c"/>
<path d="M176.8 911.9 L176.8 924.1 Q177.8 929.1 187.1 929.1 Q196.5 929.1 197.5 924.1 L197.5 911.9 Z" fill="#ee8b9c"/>
<path d="M94.8 857.2 C93.5 856.9 89.5 855.9 87 855 C84.4 854 80.5 853.5 79.8 851.6 C79 849.7 80.7 845.8 82.5 843.8 C84.2 841.7 88.3 839.1 90.3 839.3 C92.4 839.4 94.8 843.1 94.8 844.9 C94.8 846.7 91.9 849.7 90.3 850 C88.7 850.4 86 847.6 85.2 847.1" fill="none" stroke="#f29aaa" stroke-width="3.4" stroke-linecap="round" stroke-linejoin="round" />
<path d="M185.3 834.3 C185 832.1 191.1 829.1 194.8 826.9 C198.4 824.7 204.4 821.5 207.1 821.3 C209.8 821.1 210.5 823.2 210.9 825.8 C211.4 828.4 210.7 833.6 210 837 C209.4 840.4 209.3 845.4 207.1 846 C204.9 846.6 200.6 842.3 197 840.4 C193.4 838.4 185.7 836.6 185.3 834.3 Z" fill="#f3a0ae" />
<path d="M195.9 834.8 C196.1 831.9 205.1 826.2 207.1 826.2 C209.2 826.2 208.4 831.9 208.2 834.8 C208.1 837.6 208.1 843.3 206 843.3 C203.9 843.3 195.7 837.6 195.9 834.8 Z" fill="#f9c6cf" />
<path d="M90.3 866.2 C91.1 860.6 92 851.8 95.9 846 C99.9 840.2 106.4 835.2 113.9 831.4 C121.4 827.6 131.9 824.2 140.9 823.1 C149.8 822 159.6 822.7 167.8 824.7 C176 826.6 183.5 830.1 190.3 834.8 C197 839.4 203.9 846.4 208.2 852.7 C212.6 859.1 215.8 866.2 216.6 872.9 C217.3 879.7 215.6 887 212.7 893.2 C209.9 899.3 206 905.3 199.3 910 C192.5 914.7 181.3 919 172.3 921.2 C163.3 923.5 154.3 924.4 145.4 923.5 C136.4 922.6 126.3 919.9 118.4 915.6 C110.5 911.3 102.8 903.6 98.2 897.7 C93.6 891.7 92.3 884.9 91 879.7 C89.7 874.4 89.5 871.8 90.3 866.2 Z" fill="url(#g3pig)" />
<path d="M144.9 922 L144.9 937.6 Q145.9 942.6 157.5 942.6 Q169.1 942.6 170.1 937.6 L170.1 922 Z" fill="#f0909f"/>
<path d="M125.1 832.5 C127.4 831.8 133 828.5 138.6 828 C144.2 827.6 153.2 827.9 158.8 829.8 C164.4 831.8 172.3 838.8 172.3 839.7 C172.3 840.6 164.4 836.6 158.8 835.4 C153.2 834.2 142 833 138.6 832.5 Z" fill="#f7b4bf" stroke="#f7b4bf" stroke-width="1.6"/>
<path d="M130.8 832.1 C132.4 831.7 136.2 829.8 140.9 829.8 C145.5 829.8 153.8 830.4 158.8 832.1 C163.9 833.7 171.6 839 171.2 839.7 C170.8 840.4 161.6 837.2 156.6 836.1 C151.5 835.1 143.5 833.9 140.9 833.4 Z" fill="#6e3243" />
<path d="M146.5 857.2 C146 854.2 146.4 849.7 148 847.1 C149.7 844.5 152.8 842.6 156.6 841.5 C160.3 840.4 167.9 839.6 170.5 840.4 C173.1 841.1 173.3 843.2 172.3 846 C171.3 848.8 167 853.7 164.4 857.2 C161.9 860.8 159.3 866 157 867.3 C154.8 868.6 152.7 866.8 151 865.1 C149.2 863.4 147 860.2 146.5 857.2 Z" fill="#ee8d9e" />
<path d="M157 865.1 C155.6 864.3 155.5 856.3 156.1 852.7 C156.8 849.2 158.8 845.4 161.1 843.8 C163.4 842.1 168.4 842.1 170.1 842.6 C171.7 843.2 172.1 844.7 171.2 847.1 C170.2 849.6 166.8 854.2 164.4 857.2 C162.1 860.2 158.4 865.8 157 865.1 Z" fill="#f7b0bc" />
<ellipse cx="182.4" cy="873.4" rx="3.1" ry="4.5" fill="#4b2a3a" />
<ellipse cx="206.4" cy="864.6" rx="2.7" ry="4.3" fill="#4b2a3a" />
<ellipse cx="200.4" cy="891.4" rx="17.1" ry="15.7" fill="#ee8d9e"  transform="rotate(-20 200.4 891.4)"/>
<ellipse cx="203.8" cy="889.8" rx="15.3" ry="14.4" fill="#f6a9b6"  transform="rotate(-20 203.8 889.8)"/>
<ellipse cx="201.5" cy="893.6" rx="2" ry="3.6" fill="#c2647a"  transform="rotate(8 201.5 893.6)"/>
<ellipse cx="212.3" cy="889.8" rx="2" ry="3.6" fill="#c2647a"  transform="rotate(8 212.3 889.8)"/>
<ellipse cx="152.5" cy="795.5" rx="19.8" ry="23.6" fill="#b93943"  transform="rotate(-18 152.5 795.5)"/>
<ellipse cx="149.4" cy="794.3" rx="19.3" ry="23.4" fill="url(#g3red)"  transform="rotate(-18 149.4 794.3)"/>
<path d="M137.5 791.6 L160 799.3" fill="none" stroke="#f6eef0" stroke-width="5.6" stroke-linecap="butt" stroke-linejoin="round" />
<path d="M137.5 794.6 L160 802.2" fill="none" stroke="#d9b6bb" stroke-width="1" stroke-linecap="butt" stroke-linejoin="round" />
<path d="M100 744.9 C99.3 746.4 96 750.7 95.9 753.9 C95.8 757.1 96.9 761 99.3 764 C101.7 767 107.8 769.3 110.5 771.9 C113.3 774.5 115.7 777.3 115.7 779.7 C115.7 782.2 113.8 786.1 110.5 786.5 C107.2 786.8 100.4 782.5 95.9 782 C91.4 781.4 86.6 781.4 83.6 783.1 C80.6 784.8 78.3 788.3 78 792.1 C77.6 795.8 78.7 800.9 81.3 805.6 C84 810.2 91.6 817.7 93.7 820.2" fill="none" stroke="#5a9dc2" stroke-width="6.6" stroke-linecap="round" stroke-linejoin="round" />
<path d="M100 744.9 C99.3 746.4 96 750.7 95.9 753.9 C95.8 757.1 96.9 761 99.3 764 C101.7 767 107.8 769.3 110.5 771.9 C113.3 774.5 115.7 777.3 115.7 779.7 C115.7 782.2 113.8 786.1 110.5 786.5 C107.2 786.8 100.4 782.5 95.9 782 C91.4 781.4 86.6 781.4 83.6 783.1 C80.6 784.8 78.3 788.3 78 792.1 C77.6 795.8 78.7 800.9 81.3 805.6 C84 810.2 91.6 817.7 93.7 820.2" fill="none" stroke="#74b5d4" stroke-width="5.2" stroke-linecap="round" stroke-linejoin="round" />
<path d="M79.8 822.4 L109.9 816.3 L100 831.6 Z" fill="#74b5d4" stroke="#74b5d4" stroke-width="1.5" stroke-linejoin="round"/>
<path d="M173.4 731.4 C203.8 715.7 239.7 742.7 240.8 782.7 L251.4 782.7 L232.9 802.2 L215.7 783.6 L227.3 783.6 C227.3 756.2 206 733.7 173.4 731.4 Z" fill="url(#g3arr)" stroke="#79b8d6" stroke-width="1" stroke-linejoin="round"/>
<path d="M122.7 718.1 L136.6 710.9 L147.7 725.6" fill="none" stroke="#8ecbe4" stroke-width="3.8" stroke-linecap="round" stroke-linejoin="round" />
<rect x="115.5" y="731.6" width="37.1" height="9.5" rx="4.8" fill="none" stroke="#4a90b8" stroke-width="4.4" transform="rotate(49.7 133.7 735.8)"/>
<rect x="114.9" y="730.9" width="37.1" height="9.5" rx="4.8" fill="none" stroke="#5fa8cc" stroke-width="4.4" transform="rotate(49.7 133.7 735.8)"/>
<path d="M146.9 747.9 L161.5 753.2" fill="none" stroke="#4a90b8" stroke-width="6.199999999999999" stroke-linecap="round" stroke-linejoin="round" />
<path d="M146.9 747.9 L161.5 753.2" fill="none" stroke="#5fa8cc" stroke-width="5.6" stroke-linecap="round" stroke-linejoin="round" />
<rect x="158.4" y="744.1" width="16.5" height="9" rx="4.5" fill="none" stroke="#4a90b8" stroke-width="4.4" transform="rotate(-66.6 166.3 748.1)"/>
<rect x="157.8" y="743.4" width="16.5" height="9" rx="4.5" fill="none" stroke="#5fa8cc" stroke-width="4.4" transform="rotate(-66.6 166.3 748.1)"/>
<path d="M159.8 709.8 L154.4 720.7" fill="none" stroke="#7fc4de" stroke-width="3.6" stroke-linecap="round" stroke-linejoin="round" />
<ellipse cx="149.5" cy="728.3" rx="2.9" ry="2.9" fill="#7fc4de" />
<path d="M248.7 811.9 L255.9 807.4 L274.5 820.8" fill="none" stroke="#8ecbe4" stroke-width="4.2" stroke-linecap="round" stroke-linejoin="round" />
<path d="M250.5 813.4 L265.5 837.5" fill="none" stroke="#8ecbe4" stroke-width="4.2" stroke-linecap="round" stroke-linejoin="round" />
<rect x="253.7" y="839.1" width="17.7" height="8" rx="4" fill="none" stroke="#4a90b8" stroke-width="4.4" transform="rotate(144.3 262.1 842.6)"/>
<rect x="253.1" y="838.4" width="17.7" height="8" rx="4" fill="none" stroke="#5fa8cc" stroke-width="4.4" transform="rotate(144.3 262.1 842.6)"/>
<path d="M255.4 846 L243.1 858.3" fill="none" stroke="#4a90b8" stroke-width="5.8" stroke-linecap="round" stroke-linejoin="round" />
<path d="M255.4 846 L243.1 858.3" fill="none" stroke="#5fa8cc" stroke-width="5.2" stroke-linecap="round" stroke-linejoin="round" />
<rect x="238.3" y="858.7" width="11.4" height="8" rx="4" fill="none" stroke="#4a90b8" stroke-width="4.4" transform="rotate(52.2 243.6 862.2)"/>
<rect x="237.7" y="858" width="11.4" height="8" rx="4" fill="none" stroke="#5fa8cc" stroke-width="4.4" transform="rotate(52.2 243.6 862.2)"/>
<rect x="242.3" y="868" width="19.9" height="8" rx="4" fill="none" stroke="#4a90b8" stroke-width="4.4" transform="rotate(40 251.8 871.5)"/>
<rect x="241.7" y="867.3" width="19.9" height="8" rx="4" fill="none" stroke="#5fa8cc" stroke-width="4.4" transform="rotate(40 251.8 871.5)"/>
<path d="M255.4 875.2 L263.3 881.5" fill="none" stroke="#4a90b8" stroke-width="5.8" stroke-linecap="round" stroke-linejoin="round" />
<path d="M255.4 875.2 L263.3 881.5" fill="none" stroke="#5fa8cc" stroke-width="5.2" stroke-linecap="round" stroke-linejoin="round" />
<rect x="259.2" y="878.8" width="14.8" height="8.4" rx="4.2" fill="none" stroke="#4a90b8" stroke-width="4.4" transform="rotate(32 266.2 882.5)"/>
<rect x="258.6" y="878.1" width="14.8" height="8.4" rx="4.2" fill="none" stroke="#5fa8cc" stroke-width="4.4" transform="rotate(32 266.2 882.5)"/>
<path d="M224.4 823.1 L233.4 824.7" fill="none" stroke="#74b5d4" stroke-width="2.4" stroke-linecap="round" stroke-linejoin="round" />
<path d="M225.5 841.1 L234.1 832.5 L244.6 837" fill="none" stroke="#74b5d4" stroke-width="2.2" stroke-linecap="round" stroke-linejoin="round" />
<path d="M213.6 934.3 a16.4 8.3 0 0 0 32.8 0 v5.2 a16.4 8.3 0 0 1 -32.8 0 Z" fill="#f1ab36"/>
<ellipse cx="230" cy="934.3" rx="16.4" ry="8.3" fill="#f9c659"/>
<path d="M213.6 934.6 a16.4 8.3 0 0 0 32.8 0" fill="none" stroke="#e29a2a" stroke-width="0.8"/>
<path d="M213.6 929.2 a16.4 8.3 0 0 0 32.8 0 v5.2 a16.4 8.3 0 0 1 -32.8 0 Z" fill="#f1ab36"/>
<ellipse cx="230" cy="929.2" rx="16.4" ry="8.3" fill="#f9c659"/>
<path d="M213.6 929.5 a16.4 8.3 0 0 0 32.8 0" fill="none" stroke="#e29a2a" stroke-width="0.8"/>
<path d="M213.6 924 a16.4 8.3 0 0 0 32.8 0 v5.2 a16.4 8.3 0 0 1 -32.8 0 Z" fill="#f1ab36"/>
<ellipse cx="230" cy="924" rx="16.4" ry="8.3" fill="#f9c659"/>
<path d="M213.6 924.3 a16.4 8.3 0 0 0 32.8 0" fill="none" stroke="#e29a2a" stroke-width="0.8"/>
<path d="M213.6 918.8 a16.4 8.3 0 0 0 32.8 0 v5.2 a16.4 8.3 0 0 1 -32.8 0 Z" fill="#f1ab36"/>
<ellipse cx="230" cy="918.8" rx="16.4" ry="8.3" fill="#f9c659"/>
<path d="M213.6 919.1 a16.4 8.3 0 0 0 32.8 0" fill="none" stroke="#e29a2a" stroke-width="0.8"/>
<path d="M213.6 913.7 a16.4 8.3 0 0 0 32.8 0 v5.2 a16.4 8.3 0 0 1 -32.8 0 Z" fill="#f1ab36"/>
<ellipse cx="230" cy="913.7" rx="16.4" ry="8.3" fill="#f9c659"/>
<path d="M213.6 914 a16.4 8.3 0 0 0 32.8 0" fill="none" stroke="#e29a2a" stroke-width="0.8"/>
<path d="M213.6 908.5 a16.4 8.3 0 0 0 32.8 0 v5.2 a16.4 8.3 0 0 1 -32.8 0 Z" fill="#f1ab36"/>
<ellipse cx="230" cy="908.5" rx="16.4" ry="8.3" fill="#f9c659"/>
<path d="M213.6 908.8 a16.4 8.3 0 0 0 32.8 0" fill="none" stroke="#e29a2a" stroke-width="0.8"/>
<path d="M213.6 903.3 a16.4 8.3 0 0 0 32.8 0 v5.2 a16.4 8.3 0 0 1 -32.8 0 Z" fill="#f1ab36"/>
<ellipse cx="230" cy="903.3" rx="16.4" ry="8.3" fill="#f9c659"/>
<ellipse cx="230" cy="903.3" rx="12.8" ry="6.3" fill="#f6ba48"/>
<path d="M225 904.9 l10 -3.2" stroke="#fbd982" stroke-width="2.6" stroke-linecap="round"/>
<path d="M247.8 936.8 a16.2 8.1 0 0 0 32.3 0 v5.4 a16.2 8.1 0 0 1 -32.3 0 Z" fill="#f1ab36"/>
<ellipse cx="263.9" cy="936.8" rx="16.2" ry="8.1" fill="#f9c659"/>
<path d="M247.8 937.1 a16.2 8.1 0 0 0 32.3 0" fill="none" stroke="#e29a2a" stroke-width="0.8"/>
<path d="M247.8 931.4 a16.2 8.1 0 0 0 32.3 0 v5.4 a16.2 8.1 0 0 1 -32.3 0 Z" fill="#f1ab36"/>
<ellipse cx="263.9" cy="931.4" rx="16.2" ry="8.1" fill="#f9c659"/>
<path d="M247.8 931.7 a16.2 8.1 0 0 0 32.3 0" fill="none" stroke="#e29a2a" stroke-width="0.8"/>
<path d="M247.8 926 a16.2 8.1 0 0 0 32.3 0 v5.4 a16.2 8.1 0 0 1 -32.3 0 Z" fill="#f1ab36"/>
<ellipse cx="263.9" cy="926" rx="16.2" ry="8.1" fill="#f9c659"/>
<ellipse cx="263.9" cy="926" rx="12.6" ry="6.1" fill="#f6ba48"/>
<path d="M258.9 927.6 l10 -3.2" stroke="#fbd982" stroke-width="2.6" stroke-linecap="round"/>
<path d="M195.2 938.2 a16.2 8.1 0 0 0 32.3 0 v5.4 a16.2 8.1 0 0 1 -32.3 0 Z" fill="#f1ab36"/>
<ellipse cx="211.4" cy="938.2" rx="16.2" ry="8.1" fill="#f9c659"/>
<path d="M195.2 938.5 a16.2 8.1 0 0 0 32.3 0" fill="none" stroke="#e29a2a" stroke-width="0.8"/>
<path d="M195.2 932.8 a16.2 8.1 0 0 0 32.3 0 v5.4 a16.2 8.1 0 0 1 -32.3 0 Z" fill="#f1ab36"/>
<ellipse cx="211.4" cy="932.8" rx="16.2" ry="8.1" fill="#f9c659"/>
<ellipse cx="211.4" cy="932.8" rx="12.6" ry="6.1" fill="#f6ba48"/>
<path d="M206.4 934.4 l10 -3.2" stroke="#fbd982" stroke-width="2.6" stroke-linecap="round"/>
</g>
<g id="ill5">
<path d="M357.5 794.4 L357.5 812.8 L343 818.6 L343 833.9" fill="none" stroke="#7fc0da" stroke-width="1.5" stroke-linecap="butt" stroke-linejoin="round" stroke-dasharray="3 2.4"/>
<path d="M357.5 790.4 L359.8 794.6 L355.2 794.6 Z" fill="#7fc0da"/>
<path d="M343 837.9 L340.6 833.7 L345.3 833.7 Z" fill="#7fc0da"/>
<path d="M430 866.9 L468.2 849.7" fill="none" stroke="#7fc0da" stroke-width="1.5" stroke-linecap="butt" stroke-linejoin="round" stroke-dasharray="3 2.4"/>
<ellipse cx="443.2" cy="860.3" rx="2.4" ry="2.4" fill="#7fc0da" />
<path d="M437.9 918.3 L481.4 934.6" fill="none" stroke="#7fc0da" stroke-width="1.5" stroke-linecap="butt" stroke-linejoin="round" stroke-dasharray="3 2.4"/>
<path d="M511.7 920.9 L536.8 908.3 L537.3 894.6" fill="none" stroke="#7fc0da" stroke-width="1.5" stroke-linecap="butt" stroke-linejoin="round" stroke-dasharray="3 2.4"/>
<path d="M537.3 889.8 L539.6 894 L535 894 Z" fill="#7fc0da"/>
<path d="M552.6 806.2 L552.6 847.1" fill="none" stroke="#7fc0da" stroke-width="1.5" stroke-linecap="butt" stroke-linejoin="round" stroke-dasharray="3 2.4"/>
<path d="M336.4 757.2 C336.3 755.1 340.3 754.4 341.7 753.4 C343.1 752.5 346.2 751 347 749.9 C347.8 748.8 346.9 746.3 347.6 745.2 C348.3 744.1 350.9 742.4 352.3 741.7 C353.7 741.1 356.8 740 358.1 740.3 C359.4 740.5 361.4 742.5 361.9 743.5 C362.4 744.5 361.3 747.1 361.9 747.6 C362.5 748.1 365.1 746.9 366.3 747.3 C367.5 747.7 370.3 749.5 371 750.5 C371.8 751.6 372 754 371.9 755.2 C371.8 756.4 370.5 758 370.4 759.3 C370.3 760.5 370.4 763.7 371 764.6 C371.6 765.4 374.3 765.2 375.1 765.7 C375.9 766.3 377 767.7 376.9 768.7 C376.8 769.6 376.2 771.3 374.5 772.8 C372.8 774.2 366.8 777.8 364 779.5 C361.2 781.2 355.3 785.2 353.4 785.7 C351.6 786.1 351.3 784.8 349.9 782.7 C348.5 780.6 344.7 773.2 342.9 769.8 C341.1 766.4 336.6 759.4 336.4 757.2 Z" fill="#4f93b9" transform="translate(0.5 1.0)"/>
<path d="M336.4 757.2 C336.3 755.1 340.3 754.4 341.7 753.4 C343.1 752.5 346.2 751 347 749.9 C347.8 748.8 346.9 746.3 347.6 745.2 C348.3 744.1 350.9 742.4 352.3 741.7 C353.7 741.1 356.8 740 358.1 740.3 C359.4 740.5 361.4 742.5 361.9 743.5 C362.4 744.5 361.3 747.1 361.9 747.6 C362.5 748.1 365.1 746.9 366.3 747.3 C367.5 747.7 370.3 749.5 371 750.5 C371.8 751.6 372 754 371.9 755.2 C371.8 756.4 370.5 758 370.4 759.3 C370.3 760.5 370.4 763.7 371 764.6 C371.6 765.4 374.3 765.2 375.1 765.7 C375.9 766.3 377 767.7 376.9 768.7 C376.8 769.6 376.2 771.3 374.5 772.8 C372.8 774.2 366.8 777.8 364 779.5 C361.2 781.2 355.3 785.2 353.4 785.7 C351.6 786.1 351.3 784.8 349.9 782.7 C348.5 780.6 344.7 773.2 342.9 769.8 C341.1 766.4 336.6 759.4 336.4 757.2 Z" fill="#7bbad7"/>
<path d="M355.8 744.6 C356.1 743.3 357.1 741.1 358.1 740.8 C359.1 740.6 361 742.1 361.6 743.2 C362.3 744.3 362.3 746.4 361.9 747.6 C361.5 748.8 360.2 750.3 359.3 750.5 C358.4 750.7 357 749.7 356.4 748.8 C355.8 747.8 355.5 746 355.8 744.6 Z" fill="#5a9dc0" />
<path d="M365.2 757.5 C365.8 755.6 369.4 754.9 370.4 755.8 C371.5 756.7 371.4 760.9 371.3 762.8 C371.2 764.8 370.7 766.7 369.8 767.5 C369 768.3 367.1 769.2 366.3 767.5 C365.5 765.8 364.5 759.5 365.2 757.5 Z" fill="#5a9dc0" />
<path d="M349.3 767.5 C349.7 765.8 351.1 762.8 352.3 762.8 C353.4 762.8 355.5 765.5 356.4 767.5 C357.2 769.5 358 773 357.5 774.5 C357.1 776.1 354.7 777.2 353.4 776.9 C352.2 776.6 350.6 774.3 349.9 772.8 C349.2 771.2 348.9 769.2 349.3 767.5 Z" fill="#4f8fb6" />
<path d="M352 755.8 C352.2 754.8 353.4 753.2 354 753.1 C354.7 753 355.6 754.3 355.8 755.2 C356 756.1 355.7 758.1 355.2 758.7 C354.7 759.3 353.4 759.5 352.9 759 C352.3 758.5 351.8 756.8 352 755.8 Z" fill="#4a88b0" />
<path d="M351.7 760.5 C352.2 758.7 358.6 758.3 360.5 759.3 C362.3 760.3 362.1 763.8 362.8 766.3 C363.5 768.9 365.2 773.1 364.6 774.5 C364 776 360.5 775.9 359.3 775.1 C358.1 774.3 358.8 772.3 357.5 769.8 C356.3 767.4 351.2 762.2 351.7 760.5 Z" fill="#bfe0ec" />
<path d="M365.2 771 C365.4 770.3 367.5 770 368.1 770.4 C368.7 770.8 369.3 772.6 369 773.4 C368.7 774.1 367 775.2 366.3 774.8 C365.7 774.4 364.9 771.7 365.2 771 Z" fill="#bfe0ec" />
<circle cx="334" cy="856.9" r="9" fill="#5a97c0"/>
<circle cx="343.2" cy="850.3" r="10" fill="#5a97c0"/>
<circle cx="350.6" cy="859.5" r="8.4" fill="#5a97c0"/>
<circle cx="340.6" cy="861.1" r="8.4" fill="#5a97c0"/>
<circle cx="355.1" cy="863.2" r="6.3" fill="#5a97c0"/>
<circle cx="329.8" cy="858.2" r="9" fill="#84c0dc"/>
<circle cx="339" cy="851.6" r="10" fill="#84c0dc"/>
<circle cx="346.4" cy="860.8" r="8.4" fill="#84c0dc"/>
<circle cx="336.4" cy="862.4" r="8.4" fill="#84c0dc"/>
<circle cx="350.9" cy="864.5" r="6.3" fill="#84c0dc"/>
<circle cx="527.8" cy="863.5" r="12.7" fill="#5a97c0"/>
<circle cx="540.2" cy="855.5" r="15.3" fill="#5a97c0"/>
<circle cx="553.4" cy="868.7" r="13.7" fill="#5a97c0"/>
<circle cx="541.5" cy="872.7" r="13.2" fill="#5a97c0"/>
<circle cx="560.5" cy="875.3" r="10.5" fill="#5a97c0"/>
<circle cx="520.4" cy="866.1" r="12.7" fill="#84c0dc"/>
<circle cx="532.8" cy="858.2" r="15.3" fill="#84c0dc"/>
<circle cx="546" cy="871.4" r="13.7" fill="#84c0dc"/>
<circle cx="534.1" cy="875.3" r="13.2" fill="#84c0dc"/>
<circle cx="553.1" cy="878" r="10.5" fill="#84c0dc"/>
<path d="M465.7 844.4 L483.1 851 L483.1 868.5 L465.7 861 Z" fill="#6eacd0" />
<path d="M483.1 851 L498 842.7 L498 860.2 L483.1 868.5 Z" fill="#4f8bb5" />
<path d="M454.9 809.6 L484.8 821.2 L509.6 807.9 L509.6 816.2 L498 842.7 L483.1 851 L465.7 844.4 Z" fill="#5f9cc4" />
<path d="M484.8 821.2 L509.6 807.9 L509.6 816.2 L498 842.7 L483.1 851 Z" fill="#467fab" />
<path d="M443.6 797.1 L484.8 812 L484.8 821.5 L443.6 806.6 Z" fill="#5f9cc4" />
<path d="M484.8 812 L518.8 793 L518.8 800.9 L484.8 821.5 Z" fill="#4a85b0" />
<path d="M443.6 797.1 L479.8 781.3 L518.8 793 L484.8 812 Z" fill="#7db9d8" />
<path d="M454.6 792.5 L478.1 802.1 L478.1 807.6 L454.6 797.6 Z" fill="#5f9cc4" />
<path d="M478.1 802.1 L508.8 789.6 L508.8 794.6 L478.1 807.6 Z" fill="#4a85b0" />
<path d="M454.6 792.5 L487.2 780.5 L508.8 789.6 L478.1 802.1 Z" fill="#8cc4df" />
<path d="M469.8 741.5 L469.8 785.5" fill="none" stroke="#6ea9cd" stroke-width="2.4" stroke-linecap="butt" stroke-linejoin="round" />
<path d="M497.2 741.5 L497.2 785.5" fill="none" stroke="#6ea9cd" stroke-width="2.4" stroke-linecap="butt" stroke-linejoin="round" />
<path d="M483.9 742.4 L483.9 783" fill="none" stroke="#8fc4de" stroke-width="2.6" stroke-linecap="butt" stroke-linejoin="round" />
<path d="M469.8 746.5 L483.9 758.1" fill="none" stroke="#6ea9cd" stroke-width="1.3" stroke-linecap="butt" stroke-linejoin="round" />
<path d="M483.9 746.5 L469.8 758.1" fill="none" stroke="#6ea9cd" stroke-width="1.3" stroke-linecap="butt" stroke-linejoin="round" />
<path d="M469.8 761.4 L483.9 773.1" fill="none" stroke="#6ea9cd" stroke-width="1.3" stroke-linecap="butt" stroke-linejoin="round" />
<path d="M483.9 761.4 L469.8 773.1" fill="none" stroke="#6ea9cd" stroke-width="1.3" stroke-linecap="butt" stroke-linejoin="round" />
<path d="M483.9 746.5 L497.2 758.1" fill="none" stroke="#6ea9cd" stroke-width="1.3" stroke-linecap="butt" stroke-linejoin="round" />
<path d="M497.2 746.5 L483.9 758.1" fill="none" stroke="#6ea9cd" stroke-width="1.3" stroke-linecap="butt" stroke-linejoin="round" />
<path d="M483.9 761.4 L497.2 773.1" fill="none" stroke="#6ea9cd" stroke-width="1.3" stroke-linecap="butt" stroke-linejoin="round" />
<path d="M497.2 761.4 L483.9 773.1" fill="none" stroke="#6ea9cd" stroke-width="1.3" stroke-linecap="butt" stroke-linejoin="round" />
<path d="M469.8 775.5 L483.9 783" fill="none" stroke="#6ea9cd" stroke-width="1.3" stroke-linecap="butt" stroke-linejoin="round" />
<path d="M483.9 775.5 L497.2 783" fill="none" stroke="#6ea9cd" stroke-width="1.3" stroke-linecap="butt" stroke-linejoin="round" />
<path d="M469.8 745.7 L483.9 746.5 L497.2 745.7" fill="none" stroke="#6ea9cd" stroke-width="1.2" stroke-linecap="butt" stroke-linejoin="round" />
<path d="M469.8 759.8 L483.9 760.6 L497.2 759.8" fill="none" stroke="#6ea9cd" stroke-width="1.2" stroke-linecap="butt" stroke-linejoin="round" />
<path d="M469.8 774.7 L483.9 775.5 L497.2 774.7" fill="none" stroke="#6ea9cd" stroke-width="1.2" stroke-linecap="butt" stroke-linejoin="round" />
<path d="M457.4 734.9 C455.3 734.7 455.3 738.5 457.4 739.5 C459.5 740.6 474.2 744.8 478.1 745.7 C482 746.5 493.5 748.4 496.4 747.8 C499.3 747.3 506 741.9 507.2 739.9 C508.4 737.8 508.7 729.3 508.3 727.4 C507.9 725.6 504.2 719.7 503 721.3 C501.8 722.9 498.9 741.2 496.4 743.2 C493.9 745.2 482 742.4 478.1 741.5 C474.2 740.7 459.5 735.1 457.4 734.9 Z" fill="#5a96bf"/>
<path d="M457.4 734.6 C455.2 733.5 460.4 733.5 463.2 733.2 C466 732.9 474.9 733.3 478.1 732.4 C481.3 731.5 485.9 728.4 487.2 726.6 C488.6 724.8 486.9 719.6 488.1 718.6 C489.3 717.6 494.2 718.5 496.4 719.1 C498.6 719.7 503.1 721.7 504.7 723.3 C506.2 724.8 508.1 728.6 508 730.7 C507.9 732.8 505.5 737.4 503.8 739 C502.2 740.7 498.8 742.5 495.5 742.9 C492.3 743.2 484.9 742.6 479.8 741.5 C474.7 740.4 459.6 735.7 457.4 734.6 Z" fill="#7fbcda"/>
<path d="M467.3 780.5 C469.4 780.9 476.5 781.5 479.8 783 C483.1 784.5 484.9 786.3 487.2 789.6 C489.6 793 492.4 799 493.9 802.9 C495.4 806.8 496.1 809 496.4 812.9 C496.6 816.7 495.7 823.9 495.5 826.2" fill="none" stroke="#a4cde2" stroke-width="2.2" stroke-linecap="butt" stroke-linejoin="round" stroke-dasharray="1.8 1.1"/>
<path d="M468.2 783 L469 791.3" fill="none" stroke="#5a96bf" stroke-width="1.6" stroke-linecap="round" stroke-linejoin="round" />
<path d="M440 810.1 L508 832.8 L508 856.8 L440 833.6 Z" fill="#2f6594" stroke="#2f6594" stroke-width="1.2" stroke-linejoin="round"/>
<path d="M439.6 813.2 L505.5 835.3 L505.5 856.8 L439.6 833.6 Z" fill="#8cc5df" />
<text transform="matrix(1 0.335 0 1 442.6 831.1)" font-size="10.5" font-weight="700" fill="#2b5680" textLength="60" lengthAdjust="spacingAndGlyphs" style="letter-spacing:-0.3px">CLEAN1 ERRRRE</text>
<path d="M527.9 790.6 A16.6 16.6 0 1 1 548.5 790.6 L546.5 798.3 L529.9 798.3 Z" fill="url(#g5bulb)"/>
<path d="M529.6 797.8 h17.3 v9.1 q0 5 -5.2 5.3 h-6.9 q-5.2 0 -5.2 -5.3 Z" fill="#5d97bf"/>
<path d="M529.6 801.3 h17.3" stroke="#3f78a5" stroke-width="0.9"/>
<path d="M529.6 805.2 h17.3" stroke="#3f78a5" stroke-width="0.9"/>
<path d="M534.9 798.3 L531.9 781.8 q2.2 3.3 4.3 0 q2 3.3 4.1 0 q2.2 3.3 4.1 0 L541.5 798.3" fill="none" stroke="#2b5680" stroke-width="0.9" stroke-linejoin="round"/>
<path d="M538.7 747.8 L538.7 756.5" fill="none" stroke="#f6b545" stroke-width="1.5" stroke-linecap="round" stroke-linejoin="round" />
<path d="M518.8 754.5 L524.6 761.4" fill="none" stroke="#f6b545" stroke-width="1.5" stroke-linecap="round" stroke-linejoin="round" />
<path d="M558.6 757.6 L553.6 763.4" fill="none" stroke="#f6b545" stroke-width="1.5" stroke-linecap="round" stroke-linejoin="round" />
<path d="M509.6 776.4 L517.9 776.7" fill="none" stroke="#f6b545" stroke-width="1.5" stroke-linecap="round" stroke-linejoin="round" />
<path d="M559.4 778.5 L567.4 778.9" fill="none" stroke="#f6b545" stroke-width="1.5" stroke-linecap="round" stroke-linejoin="round" />
<path d="M552 794.1 L556.9 800.4" fill="none" stroke="#f6b545" stroke-width="1.5" stroke-linecap="round" stroke-linejoin="round" />
<path d="M483.4 920.6 A15.8 15.8 0 1 1 503.1 920.6 L501.2 928.3 L485.3 928.3 Z" fill="url(#g5bulb)"/>
<path d="M485 927.8 h16.5 v8.7 q0 4.7 -4.9 5.1 h-6.6 q-4.9 0 -4.9 -5.1 Z" fill="#5d97bf"/>
<path d="M485 931.2 h16.5" stroke="#3f78a5" stroke-width="0.9"/>
<path d="M485 935 h16.5" stroke="#3f78a5" stroke-width="0.9"/>
<path d="M490.1 928.3 L487.2 912.2 q2.1 3.2 4.1 0 q1.9 3.2 4 0 q2.1 3.2 4 0 L496.4 928.3" fill="none" stroke="#2b5680" stroke-width="0.9" stroke-linejoin="round"/>
<path d="M493.8 878.8 L493.8 886.7" fill="none" stroke="#f6b545" stroke-width="1.5" stroke-linecap="round" stroke-linejoin="round" />
<path d="M474.8 886.1 L480.1 891.9" fill="none" stroke="#f6b545" stroke-width="1.5" stroke-linecap="round" stroke-linejoin="round" />
<path d="M513.6 889.3 L508.3 894.6" fill="none" stroke="#f6b545" stroke-width="1.5" stroke-linecap="round" stroke-linejoin="round" />
<path d="M466.1 905.1 L474 905.1" fill="none" stroke="#f6b545" stroke-width="1.5" stroke-linecap="round" stroke-linejoin="round" />
<path d="M513.6 909.9 L521.5 910.4" fill="none" stroke="#f6b545" stroke-width="1.5" stroke-linecap="round" stroke-linejoin="round" />
<path d="M360.3 898.5 L405.2 916.5 L405.2 937.3 L360.3 912.6 Z" fill="#6caccf" />
<path d="M405.2 916.5 L444.5 897.4 L444.5 918.7 L406.3 937.8 Z" fill="#4f8db6" />
<path d="M360.3 898.5 L401.8 880.5 L444.5 897.4 L405.2 916.5 Z" fill="#7fbdd9" />
<path d="M370 893.3 L404.1 906.8 L404.1 911.3 L370 897.8 Z" fill="#5f9ac2" />
<path d="M404.1 906.8 L434.4 892.9 L434.4 897.4 L404.1 911.3 Z" fill="#4f8ab4" />
<path d="M370 893.3 L401.8 881.2 L434.4 892.9 L404.1 906.8 Z" fill="#89c7e0" />
<path d="M419.8 919.4 L435.5 915.8" fill="none" stroke="#8fc6e0" stroke-width="0.8" stroke-linecap="round" stroke-linejoin="round" />
<ellipse cx="436" cy="916.7" rx="1.1" ry="1.1" fill="#a9d4e6" />
<path d="M339.4 901 L407.9 925.2 L407.9 948.6 L339.4 924.3 Z" fill="#2a5680" stroke="#2a5680" stroke-width="1.4" stroke-linejoin="round"/>
<path d="M339.4 903.7 L405.4 927.2 L405.4 948.8 L339.4 924.8 Z" fill="url(#g5sign)" />
<text transform="matrix(1 0.36 0 1 344.1 925.2)" font-size="16.5" fill="#f2f8fb" textLength="55" lengthAdjust="spacingAndGlyphs">STARTUP</text>
<path d="M383.9 810.9 C382.4 807.5 378.5 813.1 376 816.1 C373.6 819.1 370.7 823.4 369.3 828.9 C367.9 834.4 366.8 845.9 367.7 849.1 C368.7 852.3 372 850 374.9 848 C377.8 845.9 383.5 842.9 385 836.8 C386.5 830.6 385.4 814.4 383.9 810.9 Z" fill="#33679a" />
<path d="M424.3 812.1 C425.3 810.4 429.8 818 431.5 822.2 C433.2 826.3 434.3 831.9 434.4 836.8 C434.6 841.6 433.5 849.5 432.4 851.3 C431.3 853.2 429.1 851.2 427.9 848 C426.7 844.8 426 838.2 425.4 832.3 C424.8 826.3 423.3 813.7 424.3 812.1 Z" fill="#33679a" />
<path d="M395.1 849.1 C392.8 849.9 389.8 855.2 388.8 857 C387.8 858.8 384.9 864.7 385 867.1 C385.1 869.4 389.3 879.6 390.2 880.5 C391.1 881.5 393 874.8 394 876.7 C394.9 878.6 398.3 898.9 399.6 899.6 C400.9 900.3 406 884.9 407.5 883.9 C408.9 882.9 413.1 890.9 414.2 890 C415.3 889.1 418.1 877.3 418.7 874.9 C419.3 872.5 420.7 868 420.5 865.9 C420.3 863.9 417.3 856.4 416.4 854.7 C415.6 853 414.1 849.7 412 849.1 C409.8 848.5 397.4 848.3 395.1 849.1 Z" fill="#f4a63a"/>
<path d="M396.2 850.2 C394.4 851.3 392 859 391.7 861.5 C391.5 863.9 393.4 873.8 394 874.9 C394.6 876 396.6 871.4 397.4 872.7 C398.1 873.9 400.4 887 401.4 887.3 C402.4 887.5 406.4 875.8 407.5 874.9 C408.5 874 411.2 879.2 412 878.3 C412.7 877.4 415.2 868.3 415.3 865.9 C415.4 863.6 413.6 856.3 413.1 854.7 C412.5 853.1 411.4 850.7 409.7 850.2 C408 849.8 398 849.1 396.2 850.2 Z" fill="#f9c565"/>
<path d="M397.8 849.8 C396.1 851.3 395.5 858.7 395.6 861.5 C395.7 864.2 397.6 868.6 398.5 870.4 C399.4 872.2 401.1 875.5 402.3 874.9 C403.5 874.3 406.6 868.3 407.5 865.9 C408.4 863.5 408.9 859.1 409 857 C409.1 854.8 409.6 850.7 408.1 849.8 C406.6 848.8 399.5 848.2 397.8 849.8 Z" fill="#fdf1dc"/>
<path d="M407 731.2 C404.1 731.2 400.1 740.2 397.4 744.7 C394.7 749.2 390.9 756.3 389.1 761.5 C387.2 766.8 385.8 773.9 385 779.5 C384.2 785.1 383.9 792.7 383.9 798.6 C383.9 804.5 384.5 813.1 385.2 818.8 C386 824.5 387.4 832.6 388.8 836.8 C390.2 840.9 390.6 844.6 394.4 846.2 C398.2 847.8 410.4 848.7 414.2 847.3 C418 845.9 418.3 841 419.8 836.8 C421.3 832.5 423.4 824.2 424.3 818.8 C425.2 813.4 425.8 806.6 426.1 800.8 C426.4 795.1 426.5 786.2 426.1 780.6 C425.7 775.1 424.6 769.2 423.2 763.8 C421.7 758.4 418.9 749.6 416.4 744.7 C414 739.8 409.9 731.2 407 731.2 Z" fill="#6ba8cd"/>
<clipPath id="rk"><path d="M407 731.2 C404.1 731.2 400.1 740.2 397.4 744.7 C394.7 749.2 390.9 756.3 389.1 761.5 C387.2 766.8 385.8 773.9 385 779.5 C384.2 785.1 383.9 792.7 383.9 798.6 C383.9 804.5 384.5 813.1 385.2 818.8 C386 824.5 387.4 832.6 388.8 836.8 C390.2 840.9 390.6 844.6 394.4 846.2 C398.2 847.8 410.4 848.7 414.2 847.3 C418 845.9 418.3 841 419.8 836.8 C421.3 832.5 423.4 824.2 424.3 818.8 C425.2 813.4 425.8 806.6 426.1 800.8 C426.4 795.1 426.5 786.2 426.1 780.6 C425.7 775.1 424.6 769.2 423.2 763.8 C421.7 758.4 418.9 749.6 416.4 744.7 C414 739.8 409.9 731.2 407 731.2 Z"/></clipPath>
<g clip-path="url(#rk)">
<path d="M374.9 720 L407 730.8 L413.5 768.3 L408.6 854.7 L374.9 854.7 Z" fill="#88c1dd" />
<path d="M374.9 720 L442.3 720 L442.3 762.7 Q407.5 775 374.9 760.4 L374.9 720 Z" fill="#dc4651"/>
<path d="M374.9 720 L407 730.8 L407 730.8 L413.5 768.5 Q397.4 767.6 374.9 760.4 Z" fill="#ee6a70"/>
</g>
<ellipse cx="396.9" cy="789.6" rx="9.2" ry="9.2" fill="#2f6594" />
<ellipse cx="396.9" cy="789.6" rx="7.4" ry="7.4" fill="#cfe6f0" />
<ellipse cx="396.9" cy="789.6" rx="6.1" ry="6.1" fill="#5b94be" />
<path d="M396.2 844.2 L412 844.8 L411.3 849.8 L397.4 849.3 Z" fill="#1f4068" />
<path d="M395.6 818.8 C394 818.1 390.7 823.7 388.8 828.2 C387 832.7 384.9 839.4 384.3 845.7 C383.7 852 384 862.9 385.2 865.9 C386.5 868.9 389.7 866.9 391.7 863.7 C393.8 860.5 396.2 852.1 397.4 846.9 C398.5 841.6 398.8 836.9 398.5 832.3 C398.2 827.6 397.2 819.5 395.6 818.8 Z" fill="#27537f" />
<path d="M416.4 821 C418.4 820.8 422.5 827.8 424.3 832.3 C426.1 836.8 427 842.2 427.2 848 C427.4 853.8 427 864.4 425.6 867.1 C424.3 869.7 421.2 866.8 418.9 863.7 C416.6 860.6 413 853.5 412 848.4 C410.9 843.4 411.9 838 412.6 833.4 C413.4 828.8 414.5 821.2 416.4 821 Z" fill="#2d5f8e" />
</g>
<g id="ill4">
<path d="M746.6 753.1 L790.5 732 L858.4 756.1 L858.4 794.8" fill="none" stroke="#7fc0da" stroke-width="1.6" stroke-dasharray="3.4 2.6"/>
<path d="M741.3 785.6 L800.4 806.2" fill="none" stroke="#7fc0da" stroke-width="1.6" stroke-linecap="butt" stroke-linejoin="round" stroke-dasharray="3.4 2.6"/>
<path d="M804.7 807.7 L799 809 L800.9 803.3 Z" fill="#7fc0da"/>
<path d="M719.3 802.3 L776.4 825.1 L736.9 845.7" fill="none" stroke="#7fc0da" stroke-width="1.6" stroke-linecap="butt" stroke-linejoin="round" stroke-dasharray="3.4 2.6"/>
<path d="M754.5 855 L801.5 872.1" fill="none" stroke="#7fc0da" stroke-width="1.6" stroke-linecap="butt" stroke-linejoin="round" stroke-dasharray="3.4 2.6"/>
<path d="M805.3 873.6 L799.7 874.9 L801.5 869.2 Z" fill="#7fc0da"/>
<clipPath id="av"><circle cx="698.2" cy="757.5" r="45.1"/></clipPath>
<circle cx="698.2" cy="757.5" r="46.1" fill="#fdfefe"/>
<g clip-path="url(#av)">
<path d="M664.8 789.1 C665.2 786.3 667.2 781.7 668.3 780.3 C669.5 778.9 674.1 776.1 676.2 775 C678.4 774 687.1 770.4 689.4 769.8 C691.7 769.2 697.2 768.9 699.1 768.9 C701 768.9 706.4 769.2 708.8 769.8 C711.1 770.4 720.8 774 722.8 775 C724.9 776.1 728 778.9 729 780.3 C730 781.7 732.1 786.3 732.5 789.1 C732.9 791.9 739.3 806.5 732.5 808.4 C725.7 810.4 671.6 810.4 664.8 808.4 C658.1 806.5 664.5 791.9 664.8 789.1 Z" fill="#285384" />
<path d="M690 768 L699.1 770.6 L708.4 768 L707.9 776.8 L702.6 787.3 L695.6 787.3 L690.3 776.8 Z" fill="#f6fafc" />
<path d="M689.4 768.9 L685.4 776.8 L691.2 787.3 L695.6 787.3 Z" fill="#1f4673" />
<path d="M708.8 768.9 L712.8 776.8 L707 787.3 L702.6 787.3 Z" fill="#1f4673" />
<path d="M692.4 762.7 L705.8 762.7 L706.5 768.9 L699.1 773.6 L691.7 768.9 Z" fill="#eab08a" />
<ellipse cx="681" cy="747.8" rx="2.5" ry="3.9" fill="#f0bd97" />
<ellipse cx="717.2" cy="747.8" rx="2.5" ry="3.9" fill="#f0bd97" />
<path d="M682.4 739.9 C682.4 736.2 680.8 731.4 683.3 729.3 C685.8 727.2 694.4 725.8 699.1 725.8 C703.8 725.8 712.4 727.2 714.9 729.3 C717.4 731.4 715.8 736.2 715.8 739.9 C715.8 743.6 716 750.4 714.9 753.9 C713.9 757.5 711.1 761.4 708.8 763.6 C706.4 765.9 702 768.9 699.1 768.9 C696.2 768.9 691.8 765.9 689.4 763.6 C687.1 761.4 684.3 757.5 683.3 753.9 C682.2 750.4 682.4 743.6 682.4 739.9 Z" fill="#f6c9a4" />
<path d="M679.8 745.2 C679.3 742.7 678.1 735.9 678.9 732.9 C679.7 729.8 683.2 724.3 685.9 722.3 C688.6 720.3 695.6 718 699.1 717.9 C702.6 717.8 709.7 719.6 712.3 721.4 C714.9 723.3 718 728.8 718.8 732 C719.6 735.1 718.5 742.7 718.1 745.2 C717.7 747.6 716.2 751.1 715.8 750.4 C715.4 749.7 715.7 741.8 714.9 739.9 C714.1 738 712 736.6 709.6 736.4 C707.3 736.1 700.3 738.4 697.3 738.1 C694.4 737.9 689.5 734.3 687.7 734.6 C685.8 735 684.3 738.5 683.6 740.8 C682.9 743 682.9 750.7 682.4 751.3 C681.9 751.9 680.2 747.6 679.8 745.2 Z" fill="#8a4a2b" />
<path d="M687.7 743.4 L693.8 742.7" fill="none" stroke="#7a4226" stroke-width="0.9" stroke-linecap="round" stroke-linejoin="round" />
<path d="M703 742.7 L709.1 743.4" fill="none" stroke="#7a4226" stroke-width="0.9" stroke-linecap="round" stroke-linejoin="round" />
<ellipse cx="690.7" cy="747.8" rx="1.4" ry="1.9" fill="#3a2a2a" />
<ellipse cx="706.1" cy="747.8" rx="1.4" ry="1.9" fill="#3a2a2a" />
<path d="M698.8 749.6 L697.7 753.9" fill="none" stroke="#e5a67f" stroke-width="0.7" stroke-linecap="round" stroke-linejoin="round" />
<path d="M692.9 757.5 Q698.6 763.6 704 757.1 Z" fill="#fdfefe" stroke="#c8664f" stroke-width="0.6"/>
<path d="M695.9 775 C696.4 773.9 698.1 772.9 698.8 772.9 C699.4 773 701.4 774.2 701.7 775.4 C702.1 776.6 701.1 781.9 701.7 782.9 C702.4 784 706.8 783.6 707.5 784.7 C708.3 785.8 708.4 791 708.2 792.6 C708.1 794.3 708.2 798 706.1 798.8 C704 799.5 692.5 800 690.3 799.3 C688.2 798.6 687.9 794.3 687.7 792.6 C687.5 790.9 687.7 785.9 688.6 784.7 C689.4 783.5 693.8 783.5 694.7 782.4 C695.6 781.3 695.5 776.1 695.9 775 Z" fill="#f0b88f" />
<path d="M684.2 785.9 L688.6 785.2 L688.2 797.9 L684.7 798.8 Z" fill="#f6fafc" />
<path d="M701.7 787.3 L707.5 788.2" fill="none" stroke="#dba07a" stroke-width="0.5" stroke-linecap="round" stroke-linejoin="round" />
<path d="M702.3 791.7 L707.5 792.3" fill="none" stroke="#dba07a" stroke-width="0.5" stroke-linecap="round" stroke-linejoin="round" />
</g>
<circle cx="698.2" cy="757.5" r="46.1" fill="none" stroke="#3f7aaa" stroke-width="3.2"/>
<path d="M626.2 866.1 L652.5 873.6 L652.5 900 L626.2 892.4 Z" fill="#f2c089" />
<path d="M652.5 873.6 L672.7 865.4 L672.7 891.4 L652.5 900 Z" fill="#e4a767" />
<path d="M626.2 866.1 L646.4 856 L672.7 865.4 L652.5 873.6 Z" fill="#f7d19d" />
<path d="M635.6 868.8 L642.5 870.7 L662.7 861.8 L655.9 859.4 Z" fill="#c8884d" />
<path d="M635.6 868.8 L642.5 870.7 L642.5 877.3 L635.6 875.4 Z" fill="#b97a42" />
<path d="M627.4 882.4 L635.8 885.4 L635.8 892.9 L627.4 890 Z" fill="none" stroke="#d9995c" stroke-width="0.6"/>
<path d="M676.2 847.2 L727.2 863.1 L727.6 872.7 L677.1 857.8 Z" fill="#7dbad9" />
<path d="M727.2 863.1 L750.1 852.5 L749.4 862.2 L727.6 872.7 Z" fill="#6aaacd" />
<path d="M676.6 847.2 L700.9 835.5 L749.7 852.5 L727.2 863.1 Z" fill="#8fcbe3" stroke="#8fcbe3" stroke-width="1.6" stroke-linejoin="round"/>
<path d="M688.9 841.1 L727.2 861.3" fill="none" stroke="#5a96bf" stroke-width="0.9" stroke-linecap="round" stroke-linejoin="round" />
<path d="M681.5 856 L727.2 868.3 L725.5 894.7 L685.9 881.5 Z" fill="#92cde4" opacity="0.95"/>
<path d="M727.2 868.3 L746.6 863.9 L741.3 888.6 L725.5 894.7 Z" fill="#7dbad9" />
<path d="M668.3 851.6 L681.5 856 L685.9 881.5 L676.2 879.8 Z" fill="#c5e5f1" opacity="0.7"/>
<path d="M681.5 856 L727.2 868.3 L746.6 863.9" fill="none" stroke="#4f86b4" stroke-width="2.2" stroke-linecap="butt" stroke-linejoin="round" />
<path d="M683.1 865.2 L726.6 877.8 L744.7 872.8" fill="none" stroke="#4f86b4" stroke-width="1.7" stroke-linecap="butt" stroke-linejoin="round" />
<path d="M684.6 873.9 L726 886.8 L742.9 881.2" fill="none" stroke="#4f86b4" stroke-width="1.7" stroke-linecap="butt" stroke-linejoin="round" />
<path d="M685.9 881.5 L725.5 894.7 L741.3 888.6" fill="none" stroke="#4f86b4" stroke-width="2.2" stroke-linecap="butt" stroke-linejoin="round" />
<path d="M681.5 856 L685.9 881.5" fill="none" stroke="#4f86b4" stroke-width="2.0" stroke-linecap="butt" stroke-linejoin="round" />
<path d="M698 860.5 L700.2 886.3" fill="none" stroke="#4f86b4" stroke-width="1.7" stroke-linecap="butt" stroke-linejoin="round" />
<path d="M712.6 864.4 L712.8 890.5" fill="none" stroke="#4f86b4" stroke-width="1.7" stroke-linecap="butt" stroke-linejoin="round" />
<path d="M727.2 868.3 L725.5 894.7" fill="none" stroke="#4f86b4" stroke-width="2.0" stroke-linecap="butt" stroke-linejoin="round" />
<path d="M733.6 866.9 L730.7 892.7" fill="none" stroke="#4f86b4" stroke-width="1.5" stroke-linecap="butt" stroke-linejoin="round" />
<path d="M740 865.4 L735.9 890.6" fill="none" stroke="#4f86b4" stroke-width="1.5" stroke-linecap="butt" stroke-linejoin="round" />
<path d="M746.6 863.9 L741.3 888.6" fill="none" stroke="#4f86b4" stroke-width="1.5" stroke-linecap="butt" stroke-linejoin="round" />
<path d="M667.8 851.6 L681.5 856" fill="none" stroke="#4f86b4" stroke-width="2.2" stroke-linecap="round" stroke-linejoin="round" />
<path d="M672.7 864.8 L683.3 868.3" fill="none" stroke="#4f86b4" stroke-width="1.7" stroke-linecap="round" stroke-linejoin="round" />
<path d="M660.1 835.5 L676.6 883.6" fill="none" stroke="#4f86b4" stroke-width="3.2" stroke-linecap="round" stroke-linejoin="round" />
<path d="M676.6 883.6 L673.1 887.7 L678.4 892.1 L729.3 906.1" fill="none" stroke="#4f86b4" stroke-width="3.6" stroke-linecap="round" stroke-linejoin="round" />
<path d="M646.4 830.5 L659.6 835.1" fill="none" stroke="#6da5cc" stroke-width="5.0" stroke-linecap="round" stroke-linejoin="round" />
<ellipse cx="679.4" cy="902.3" rx="6.7" ry="7" fill="#3f78a6" />
<ellipse cx="680.6" cy="901.2" rx="4.6" ry="4.9" fill="#4f8ab8" />
<ellipse cx="718.4" cy="914" rx="6.3" ry="6.7" fill="#3f78a6" />
<ellipse cx="719.5" cy="913.2" rx="4.2" ry="4.6" fill="#4f8ab8" />
<ellipse cx="729.9" cy="905.3" rx="2.8" ry="3.2" fill="#4f86b4" />
<path d="M723.7 850.6 C720 850 713.7 840 711.4 836.6 C709.1 833.1 707.3 828.5 707 826 C706.8 823.6 708.4 820.3 709.6 819 C710.9 817.6 714.1 816.2 715.8 816.3 C717.5 816.5 720.6 818.5 722 819.9 C723.3 821.2 724.5 825.6 725.5 826 C726.5 826.4 727.5 823.1 729 822.5 C730.5 821.9 734.2 821.1 736 821.6 C737.9 822.1 741.2 824.4 742.2 826 C743.2 827.6 743.7 831 743 833 C742.4 835.1 740.5 838.5 737.8 841 C735.1 843.4 727.4 851.2 723.7 850.6 Z" fill="#c43a45" transform="translate(1.4 -0.6)"/>
<path d="M723.4 850.6 C719.8 849.9 712.8 839.9 710.5 836.6 C708.2 833.2 707.2 829.2 707 826.9 C706.8 824.6 708.2 821.2 709.3 819.9 C710.4 818.6 713.3 817.5 714.9 817.6 C716.5 817.7 719.3 819 720.5 820.4 C721.8 821.8 723.1 826.9 724.1 827.4 C725 827.9 726.2 824.5 727.6 823.9 C729 823.3 732.2 822.9 733.9 823.4 C735.6 823.9 738.9 825.9 739.9 827.4 C740.9 828.9 741.5 832 740.9 833.9 C740.4 835.9 738.5 839.1 736 841.5 C733.6 843.8 726.9 851.3 723.4 850.6 Z" fill="url(#g4heart)"/>
<path d="M733.9 899.5 L787.3 915.8 L787.3 952.7 L733.9 935.7 Z" fill="#2b5f8e" stroke="#2b5f8e" stroke-width="1.6" stroke-linejoin="round"/>
<path d="M733.4 902.6 L784.4 918.4 L784.4 951.8 L733.4 936 Z" fill="url(#g4crm)" />
<path d="M733.4 901.2 L784.9 917 L784.9 921.6 L733.4 905.8 Z" fill="#4f8ab5" />
<text transform="matrix(1 0.3 0 1 740.9 932.5)" font-size="22.5" fill="#f4fafc" textLength="35.5" lengthAdjust="spacingAndGlyphs">CRM</text>
<path d="M812.2 782.5 L945.8 825.9 L945.8 936.5 L812.2 879.6 Z" fill="#1f476f" stroke="#1f476f" stroke-width="3.5" stroke-linejoin="round"/>
<path d="M807.9 784.7 L940.7 827 L940.7 935.9 L807.9 877.5 Z" fill="#86c4df" stroke="#86c4df" stroke-width="3.0" stroke-linejoin="round"/>
<path d="M807.9 784.7 L940.7 827 L940.7 838.4 L807.9 795 Z" fill="url(#g4bar)" stroke="url(#g4bar)" stroke-width="3.0" stroke-linejoin="round"/>
<path d="M811.8 801.2 L936.4 843.5 L936.4 931.2 L811.8 874.9 Z" fill="#e1f1f8" />
<ellipse cx="812.6" cy="789.6" rx="2.1" ry="2.4" fill="#f3e3c8" />
<ellipse cx="819.3" cy="791.8" rx="1.9" ry="2.1" fill="#f0a868" />
<ellipse cx="825.8" cy="793.9" rx="1.9" ry="2.1" fill="#cfe3b0" />
<ellipse cx="927.1" cy="829.4" rx="2.4" ry="2.6" fill="#a9d8ea" />
<ellipse cx="934" cy="831.9" rx="2.1" ry="2.4" fill="#a9d8ea" />
<path d="M816.9 810.5 L845.5 819.5 L845.5 858.6 L816.9 849.5 Z" fill="#86c4df" />
<clipPath id="ph"><path d="M816.9 810.5 L845.5 819.5 L845.5 858.6 L816.9 849.5 Z"/></clipPath><g clip-path="url(#ph)">
<path d="M818.2 849.5 C818.4 848.6 818.9 842.2 819.7 841 C820.5 839.7 824.5 836.8 826.2 836.7 C827.8 836.5 834.6 838.4 836.3 839.2 C837.9 840.1 841.9 843.3 842.7 845.3 C843.5 847.2 846.9 858.1 844.4 858.6 C842 859 820.9 850.9 818.2 850 C815.6 849.1 818.1 850.4 818.2 849.5 Z" fill="#2f5f8f" />
<path d="M829 836.7 L833.7 837.9 L832.6 847.4 L829.8 846.5 Z" fill="#f4f8fb" />
<ellipse cx="831.6" cy="829.1" rx="5.2" ry="7.3" fill="#f0b88f" />
<path d="M824.7 824.8 C824.6 823.8 825.1 819.5 826.2 818.4 C827.2 817.3 831.1 816 832.6 816.3 C834.2 816.5 837.1 818.8 838 820.5 C838.9 822.3 839.1 827.3 839.1 829.1 C839 831 837.9 834.9 837.6 834.5 C837.2 834.1 837.1 827.5 836.3 825.9 C835.5 824.3 832.8 822.7 831.6 822.7 C830.3 822.7 827.7 825.6 826.8 825.9 C825.9 826.2 824.8 825.8 824.7 824.8 Z" fill="#2b2f45" />
</g>
<path d="M851.3 827.6 L884.8 838.4" fill="none" stroke="#7fbddb" stroke-width="4.6" stroke-linecap="butt" stroke-linejoin="round" />
<path d="M851.3 837.1 L884.8 847.8" fill="none" stroke="#7fbddb" stroke-width="4.6" stroke-linecap="butt" stroke-linejoin="round" />
<path d="M851.3 846.5 L864.2 850.8" fill="none" stroke="#7fbddb" stroke-width="4.6" stroke-linecap="butt" stroke-linejoin="round" />
<path d="M868.1 851.9 L884.8 857.3" fill="none" stroke="#7fbddb" stroke-width="4.6" stroke-linecap="butt" stroke-linejoin="round" />
<path d="M851.3 856.2 L884.8 866.9" fill="none" stroke="#7fbddb" stroke-width="4.6" stroke-linecap="butt" stroke-linejoin="round" />
<path d="M891.3 834.5 L929.9 847 L929.9 887.8 L891.3 875.3 Z" fill="#86c4df" />
<ellipse cx="904.2" cy="849.1" rx="4.7" ry="6.4" fill="#eaf5fa" />
<path d="M894.9 868.9 C893.2 867.6 895.1 862.5 896 861.4 C896.8 860.2 902 857.7 903.5 857.7 C905.1 857.7 910.5 859.7 911.5 861.4 C912.4 863 914.8 873.5 913.2 874.2 C911.5 875 896.6 870.2 894.9 868.9 Z" fill="#eaf5fa" />
<path d="M893.4 870.6 L926.1 881.3" fill="none" stroke="#4f8ab5" stroke-width="1.4" stroke-linecap="butt" stroke-linejoin="round" />
<path d="M893.4 873.6 L926.1 884.3" fill="none" stroke="#7fbddb" stroke-width="1.0" stroke-linecap="butt" stroke-linejoin="round" />
<path d="M816.9 857.1 L929.9 893.6 L929.9 925.2 L816.9 874 Z" fill="#8ecbe4" />
<path d="M821.9 866.8 L835.4 871.2 L835.4 881.5 L821.9 877.1 Z" fill="#b9dfee" />
<path d="M839.7 872.6 L846.6 874.8 L846.6 885.1 L839.7 882.9 Z" fill="#b9dfee" />
<path d="M852 876.5 L859.5 879 L859.5 889.3 L852 886.8 Z" fill="#b9dfee" />
<path d="M864.2 880.5 L870.2 882.4 L870.2 892.7 L864.2 890.8 Z" fill="#b9dfee" />
<path d="M874.5 883.8 L884.2 886.9 L884.2 897.3 L874.5 894.1 Z" fill="#b9dfee" />
<path d="M888.5 890.4 L923.5 901.5" fill="none" stroke="#c9e7f2" stroke-width="5.0" stroke-linecap="butt" stroke-linejoin="round" />
<path d="M888.5 901.5 L912.7 909.3" fill="none" stroke="#b9dfee" stroke-width="4.4" stroke-linecap="butt" stroke-linejoin="round" />
<path d="M897.1 754.6 L934.2 766.8 L934.2 796.9 L908.9 789 L898.6 793.3 L898.6 785.5 L897.1 784 Z" fill="#2b5f8e" stroke="#2b5f8e" stroke-width="2.0" stroke-linejoin="round"/>
<path d="M895.6 756.1 L931.4 767.9 L931.4 796.3 L906.7 788.5 L897.7 792.8 L897.7 785.5 L895.6 784.7 Z" fill="#8ecbe4" stroke="#8ecbe4" stroke-width="1.6" stroke-linejoin="round"/>
<path d="M901.4 766.2 L905.7 767.9" fill="none" stroke="#2b5680" stroke-width="0.9" stroke-linecap="round" stroke-linejoin="round" />
<path d="M900.3 772.2 L904.6 775.4" fill="none" stroke="#2b5680" stroke-width="0.9" stroke-linecap="round" stroke-linejoin="round" />
<path d="M920.7 771.8 L925 772.6" fill="none" stroke="#2b5680" stroke-width="0.9" stroke-linecap="round" stroke-linejoin="round" />
<path d="M921.8 777.6 L925.6 780.4" fill="none" stroke="#2b5680" stroke-width="0.9" stroke-linecap="round" stroke-linejoin="round" />
<path d="M913.2 772.2 L915.3 774.4" fill="none" stroke="#2b5680" stroke-width="0.9" stroke-linecap="round" stroke-linejoin="round" />
<path d="M906.7 775.4 L913.6 784 L922.2 776.9" fill="none" stroke="#2b5680" stroke-width="0.9" stroke-linecap="round" stroke-linejoin="round" />
<path d="M790.3 891.4 L829.8 906.5 L829.8 944.1 L790.3 929 Z" fill="#f2c089" />
<path d="M829.8 906.5 L861.2 891.4 L861.2 928.4 L829.8 944.1 Z" fill="#e4a767" />
<path d="M790.3 891.4 L819.7 876.4 L861.2 891.4 L829.8 906.5 Z" fill="#f7d19d" />
<path d="M804.5 896.8 L814.8 900.8 L845.4 885.7 L834.7 881.8 Z" fill="#c8884d" />
<path d="M804.5 896.8 L814.8 900.8 L814.8 910.2 L804.5 906.2 Z" fill="#b97a42" />
<path d="M793.3 916.6 L804.1 920.9 L804.1 930.7 L793.3 926.4 Z" fill="none" stroke="#c98a52" stroke-width="0.7"/>
<path d="M832.6 930.1 L845.5 923.7 L845.5 932.2 L832.6 938.7 Z" fill="none" stroke="#c98a52" stroke-width="0.7"/>
</g>
</svg>
</body>
</html>
